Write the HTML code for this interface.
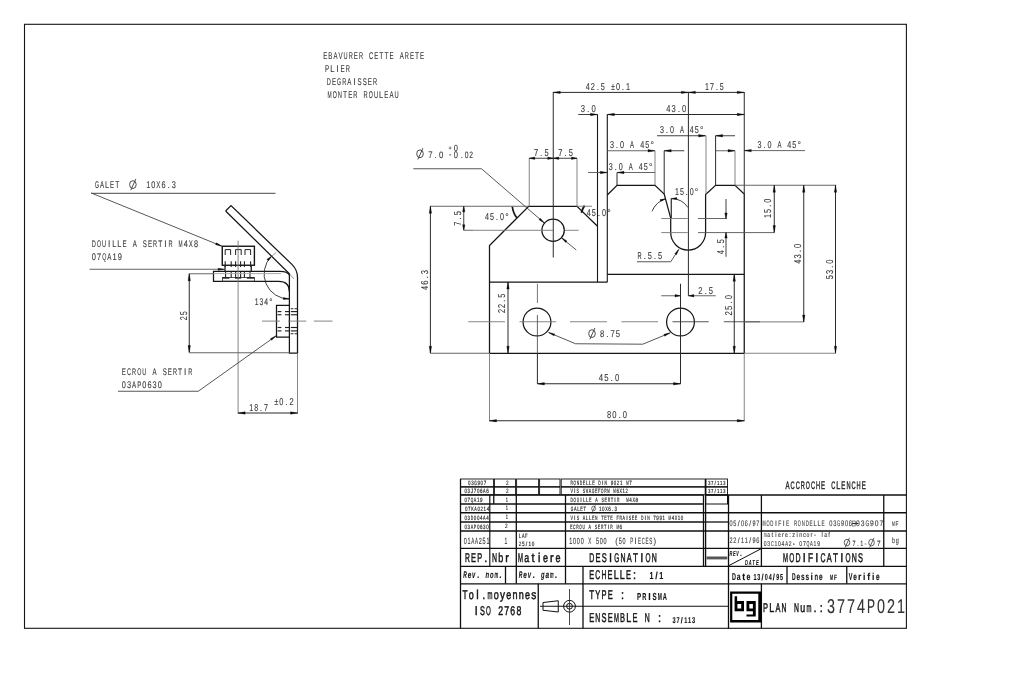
<!DOCTYPE html>
<html><head><meta charset="utf-8"><title>ACCROCHE CLENCHE 3774P021</title>
<style>
html,body{margin:0;padding:0;background:#fff;}
body{width:1024px;height:673px;overflow:hidden;font-family:"Liberation Sans",sans-serif;}
svg{display:block;font-family:"Liberation Sans",sans-serif;filter:grayscale(1);}
</style></head><body>
<svg width="1024" height="673" viewBox="0 0 1024 673" text-rendering="geometricPrecision">
<rect x="0" y="0" width="1024" height="673" fill="#ffffff"/>
<rect x="24.5" y="24.3" width="881.9" height="604" stroke="#151515" stroke-width="1.1" fill="none"/>
<g font-size="9.78" fill="#3a3a3a" stroke="#3a3a3a" stroke-width="0.12">
<text transform="translate(323.2 58.8) scale(0.63 1)">E</text>
<text transform="translate(328.3 58.8) scale(0.63 1)">B</text>
<text transform="translate(333.4 58.8) scale(0.62 1)">A</text>
<text transform="translate(338.5 58.8) scale(0.63 1)">V</text>
<text transform="translate(343.6 58.8) scale(0.58 1)">U</text>
<text transform="translate(348.71 58.8) scale(0.58 1)">R</text>
<text transform="translate(353.81 58.8) scale(0.63 1)">E</text>
<text transform="translate(358.91 58.8) scale(0.58 1)">R</text>
<text transform="translate(369.11 58.8) scale(0.58 1)">C</text>
<text transform="translate(374.21 58.8) scale(0.63 1)">E</text>
<text transform="translate(379.31 58.8) scale(0.68 1)">T</text>
<text transform="translate(384.41 58.8) scale(0.68 1)">T</text>
<text transform="translate(389.51 58.8) scale(0.63 1)">E</text>
<text transform="translate(399.72 58.8) scale(0.62 1)">A</text>
<text transform="translate(404.82 58.8) scale(0.58 1)">R</text>
<text transform="translate(409.92 58.8) scale(0.63 1)">E</text>
<text transform="translate(415.02 58.8) scale(0.68 1)">T</text>
<text transform="translate(420.12 58.8) scale(0.63 1)">E</text>
</g>
<g font-size="9.78" fill="#3a3a3a" stroke="#3a3a3a" stroke-width="0.12">
<text transform="translate(325 71.8) scale(0.64 1)">P</text>
<text transform="translate(330.21 71.8) scale(0.77 1)">L</text>
<text transform="translate(336.32 71.8) scale(0.86 1)">I</text>
<text transform="translate(340.62 71.8) scale(0.64 1)">E</text>
<text transform="translate(345.83 71.8) scale(0.59 1)">R</text>
</g>
<g font-size="9.78" fill="#3a3a3a" stroke="#3a3a3a" stroke-width="0.12">
<text transform="translate(326.8 84.8) scale(0.58 1)">D</text>
<text transform="translate(331.92 84.8) scale(0.63 1)">E</text>
<text transform="translate(337.04 84.8) scale(0.54 1)">G</text>
<text transform="translate(342.17 84.8) scale(0.58 1)">R</text>
<text transform="translate(347.29 84.8) scale(0.63 1)">A</text>
<text transform="translate(353.28 84.8) scale(0.86 1)">I</text>
<text transform="translate(357.53 84.8) scale(0.63 1)">S</text>
<text transform="translate(362.66 84.8) scale(0.63 1)">S</text>
<text transform="translate(367.78 84.8) scale(0.63 1)">E</text>
<text transform="translate(372.9 84.8) scale(0.58 1)">R</text>
</g>
<g font-size="9.78" fill="#3a3a3a" stroke="#3a3a3a" stroke-width="0.12">
<text transform="translate(327.5 97.8) scale(0.51 1)">M</text>
<text transform="translate(332.66 97.8) scale(0.54 1)">O</text>
<text transform="translate(337.82 97.8) scale(0.59 1)">N</text>
<text transform="translate(342.98 97.8) scale(0.69 1)">T</text>
<text transform="translate(348.14 97.8) scale(0.63 1)">E</text>
<text transform="translate(353.3 97.8) scale(0.59 1)">R</text>
<text transform="translate(363.62 97.8) scale(0.59 1)">R</text>
<text transform="translate(368.78 97.8) scale(0.54 1)">O</text>
<text transform="translate(373.93 97.8) scale(0.59 1)">U</text>
<text transform="translate(379.09 97.8) scale(0.76 1)">L</text>
<text transform="translate(384.25 97.8) scale(0.63 1)">E</text>
<text transform="translate(389.41 97.8) scale(0.63 1)">A</text>
<text transform="translate(394.57 97.8) scale(0.59 1)">U</text>
</g>
<path d="M489.5 353.25 L489.5 245.5 L528.75 206.25 L577 206.25 L597.5 226.25" stroke="#151515" stroke-width="1.25" fill="none" />
<line x1="489.5" y1="282" x2="607.5" y2="282" stroke="#151515" stroke-width="1.25"/>
<line x1="597.5" y1="114.5" x2="597.5" y2="282" stroke="#151515" stroke-width="1.1"/>
<line x1="607.3" y1="114.5" x2="607.3" y2="282" stroke="#151515" stroke-width="1.1"/>
<path d="M607.3 195 L617 185.25 L655 185.25 L664.2 194 L670.7 218 L670.7 232.6 A17.45 17.45 0 0 0 705.6 232.6 L705.6 194.6 L715.6 185.25 L735 185.25 L744.25 194 L744.25 353.25" stroke="#151515" stroke-width="1.25" fill="none" />
<line x1="607.3" y1="274.25" x2="744.25" y2="274.25" stroke="#151515" stroke-width="1.25"/>
<line x1="489.5" y1="353.25" x2="744.25" y2="353.25" stroke="#151515" stroke-width="1.25"/>
<circle cx="553.1" cy="230.25" r="11.2" stroke="#151515" stroke-width="1.25" fill="none"/>
<circle cx="537" cy="322" r="13.9" stroke="#151515" stroke-width="1.25" fill="none"/>
<circle cx="680.5" cy="322" r="13.9" stroke="#151515" stroke-width="1.25" fill="none"/>
<line x1="553.25" y1="92" x2="553.25" y2="257.5" stroke="#2a2a2a" stroke-width="1"/>
<line x1="473.25" y1="230.3" x2="553" y2="230.3" stroke="#777" stroke-width="0.9"/>
<line x1="565" y1="230.3" x2="578.6" y2="230.3" stroke="#777" stroke-width="0.9"/>
<line x1="688.4" y1="92" x2="688.4" y2="295.75" stroke="#2a2a2a" stroke-width="1"/>
<line x1="468.25" y1="321.75" x2="505" y2="321.75" stroke="#777" stroke-width="0.9"/>
<line x1="519.5" y1="321.75" x2="556.25" y2="321.75" stroke="#777" stroke-width="0.9"/>
<line x1="570" y1="321.75" x2="607" y2="321.75" stroke="#777" stroke-width="0.9"/>
<line x1="621.5" y1="321.75" x2="658" y2="321.75" stroke="#777" stroke-width="0.9"/>
<line x1="672.5" y1="321.75" x2="708.75" y2="321.75" stroke="#444" stroke-width="0.9"/>
<line x1="723.75" y1="321.75" x2="760" y2="321.75" stroke="#444" stroke-width="0.9"/>
<line x1="744.25" y1="321.9" x2="803.75" y2="321.9" stroke="#666" stroke-width="0.9"/>
<line x1="537.4" y1="283.75" x2="537.4" y2="303" stroke="#666" stroke-width="0.9"/>
<line x1="537.4" y1="315" x2="537.4" y2="353" stroke="#555" stroke-width="0.9"/>
<line x1="537.4" y1="353" x2="537.4" y2="383.75" stroke="#2a2a2a" stroke-width="1"/>
<line x1="680.5" y1="283.75" x2="680.5" y2="383.75" stroke="#2a2a2a" stroke-width="1"/>
<line x1="553.25" y1="92.4" x2="744.25" y2="92.4" stroke="#2a2a2a" stroke-width="1"/>
<polygon points="553.25,92.4 560.25,91.2 560.25,93.6" fill="#0a0a0a" stroke="#0a0a0a" stroke-width="0.35"/>
<polygon points="688.4,92.4 681.4,93.6 681.4,91.2" fill="#0a0a0a" stroke="#0a0a0a" stroke-width="0.35"/>
<polygon points="688.4,92.4 695.4,91.2 695.4,93.6" fill="#0a0a0a" stroke="#0a0a0a" stroke-width="0.35"/>
<polygon points="744.25,92.4 737.25,93.6 737.25,91.2" fill="#0a0a0a" stroke="#0a0a0a" stroke-width="0.35"/>
<line x1="744.25" y1="92" x2="744.25" y2="194" stroke="#2a2a2a" stroke-width="1"/>
<g font-size="9.98" fill="#3a3a3a" stroke="#3a3a3a" stroke-width="0.12">
<text transform="translate(585.8 89.6) scale(0.73 1)">4</text>
<text transform="translate(590.82 89.6) scale(0.73 1)">2</text>
<text transform="translate(596.65 89.6) scale(0.86 1)">.</text>
<text transform="translate(600.87 89.6) scale(0.73 1)">5</text>
<text transform="translate(610.91 89.6) scale(0.73 1)">±</text>
<text transform="translate(615.94 89.6) scale(0.73 1)">0</text>
<text transform="translate(621.77 89.6) scale(0.86 1)">.</text>
<text transform="translate(625.98 89.6) scale(0.73 1)">1</text>
</g>
<g font-size="9.98" fill="#3a3a3a" stroke="#3a3a3a" stroke-width="0.12">
<text transform="translate(705 89.6) scale(0.71 1)">1</text>
<text transform="translate(709.95 89.6) scale(0.71 1)">7</text>
<text transform="translate(715.67 89.6) scale(0.86 1)">.</text>
<text transform="translate(719.84 89.6) scale(0.71 1)">5</text>
</g>
<g font-size="9.98" fill="#3a3a3a" stroke="#3a3a3a" stroke-width="0.12">
<text transform="translate(580.8 112) scale(0.77 1)">3</text>
<text transform="translate(587.1 112) scale(0.86 1)">.</text>
<text transform="translate(591.51 112) scale(0.77 1)">0</text>
</g>
<line x1="578.25" y1="114.5" x2="597.5" y2="114.5" stroke="#2a2a2a" stroke-width="0.9"/>
<polygon points="597.5,114.5 590.5,115.7 590.5,113.3" fill="#0a0a0a" stroke="#0a0a0a" stroke-width="0.35"/>
<line x1="607.3" y1="114.5" x2="744.25" y2="114.5" stroke="#2a2a2a" stroke-width="1"/>
<polygon points="607.3,114.5 614.3,113.3 614.3,115.7" fill="#0a0a0a" stroke="#0a0a0a" stroke-width="0.35"/>
<polygon points="744.25,114.5 737.25,115.7 737.25,113.3" fill="#0a0a0a" stroke="#0a0a0a" stroke-width="0.35"/>
<g font-size="9.98" fill="#3a3a3a" stroke="#3a3a3a" stroke-width="0.12">
<text transform="translate(666.2 112) scale(0.76 1)">4</text>
<text transform="translate(671.46 112) scale(0.76 1)">3</text>
<text transform="translate(677.63 112) scale(0.86 1)">.</text>
<text transform="translate(681.99 112) scale(0.76 1)">0</text>
</g>
<g font-size="9.98" fill="#3a3a3a" stroke="#3a3a3a" stroke-width="0.12">
<text transform="translate(660 133.3) scale(0.72 1)">3</text>
<text transform="translate(665.77 133.3) scale(0.86 1)">.</text>
<text transform="translate(669.95 133.3) scale(0.72 1)">0</text>
<text transform="translate(679.91 133.3) scale(0.6 1)">A</text>
<text transform="translate(689.86 133.3) scale(0.72 1)">4</text>
<text transform="translate(694.84 133.3) scale(0.72 1)">5</text>
<text transform="translate(700.09 133.3) scale(0.86 1)">°</text>
</g>
<line x1="657" y1="135.75" x2="705.6" y2="135.75" stroke="#2a2a2a" stroke-width="0.9"/>
<polygon points="705.6,135.75 698.6,136.95 698.6,134.55" fill="#0a0a0a" stroke="#0a0a0a" stroke-width="0.35"/>
<line x1="706" y1="135.75" x2="706" y2="194.6" stroke="#777" stroke-width="0.9"/>
<line x1="715.6" y1="135.75" x2="735" y2="135.75" stroke="#2a2a2a" stroke-width="0.9"/>
<polygon points="715.6,135.75 722.6,134.55 722.6,136.95" fill="#0a0a0a" stroke="#0a0a0a" stroke-width="0.35"/>
<line x1="715.6" y1="135.75" x2="715.6" y2="185.25" stroke="#2a2a2a" stroke-width="1"/>
<g font-size="9.98" fill="#3a3a3a" stroke="#3a3a3a" stroke-width="0.12">
<text transform="translate(610 148.3) scale(0.73 1)">3</text>
<text transform="translate(615.83 148.3) scale(0.86 1)">.</text>
<text transform="translate(620.05 148.3) scale(0.73 1)">0</text>
<text transform="translate(630.09 148.3) scale(0.6 1)">A</text>
<text transform="translate(640.14 148.3) scale(0.73 1)">4</text>
<text transform="translate(645.16 148.3) scale(0.73 1)">5</text>
<text transform="translate(650.47 148.3) scale(0.86 1)">°</text>
</g>
<line x1="607.3" y1="150.75" x2="655" y2="150.75" stroke="#555" stroke-width="0.9"/>
<polygon points="655,150.75 648,151.95 648,149.55" fill="#0a0a0a" stroke="#0a0a0a" stroke-width="0.35"/>
<line x1="655" y1="150.75" x2="655" y2="185.25" stroke="#777" stroke-width="0.9"/>
<line x1="664.2" y1="150.75" x2="684.25" y2="150.75" stroke="#2a2a2a" stroke-width="0.9"/>
<polygon points="664.2,150.75 671.2,149.55 671.2,151.95" fill="#0a0a0a" stroke="#0a0a0a" stroke-width="0.35"/>
<line x1="664.2" y1="150.75" x2="664.2" y2="194" stroke="#2a2a2a" stroke-width="1"/>
<line x1="715.6" y1="150.75" x2="735" y2="150.75" stroke="#555" stroke-width="0.9"/>
<polygon points="735,150.75 728,151.95 728,149.55" fill="#0a0a0a" stroke="#0a0a0a" stroke-width="0.35"/>
<line x1="735" y1="150.75" x2="735" y2="185.25" stroke="#777" stroke-width="0.9"/>
<line x1="744.25" y1="150.6" x2="805" y2="150.6" stroke="#555" stroke-width="0.9"/>
<polygon points="744.25,150.6 751.25,149.4 751.25,151.8" fill="#0a0a0a" stroke="#0a0a0a" stroke-width="0.35"/>
<g font-size="9.98" fill="#3a3a3a" stroke="#3a3a3a" stroke-width="0.12">
<text transform="translate(757.5 147.6) scale(0.72 1)">3</text>
<text transform="translate(763.27 147.6) scale(0.86 1)">.</text>
<text transform="translate(767.45 147.6) scale(0.72 1)">0</text>
<text transform="translate(777.41 147.6) scale(0.6 1)">A</text>
<text transform="translate(787.36 147.6) scale(0.72 1)">4</text>
<text transform="translate(792.34 147.6) scale(0.72 1)">5</text>
<text transform="translate(797.59 147.6) scale(0.86 1)">°</text>
</g>
<g font-size="9.98" fill="#3a3a3a" stroke="#3a3a3a" stroke-width="0.12">
<text transform="translate(608.8 170.1) scale(0.72 1)">3</text>
<text transform="translate(614.57 170.1) scale(0.86 1)">.</text>
<text transform="translate(618.75 170.1) scale(0.72 1)">0</text>
<text transform="translate(628.71 170.1) scale(0.6 1)">A</text>
<text transform="translate(638.66 170.1) scale(0.72 1)">4</text>
<text transform="translate(643.64 170.1) scale(0.72 1)">5</text>
<text transform="translate(648.89 170.1) scale(0.86 1)">°</text>
</g>
<line x1="588" y1="172.5" x2="607.3" y2="172.5" stroke="#555" stroke-width="0.9"/>
<polygon points="607.3,172.5 600.3,173.7 600.3,171.3" fill="#0a0a0a" stroke="#0a0a0a" stroke-width="0.35"/>
<line x1="617" y1="172.5" x2="655" y2="172.5" stroke="#555" stroke-width="0.9"/>
<polygon points="617,172.5 624,171.3 624,173.7" fill="#0a0a0a" stroke="#0a0a0a" stroke-width="0.35"/>
<line x1="617" y1="172.5" x2="617" y2="185.25" stroke="#2a2a2a" stroke-width="1"/>
<line x1="529.25" y1="158.25" x2="529.25" y2="206.25" stroke="#777" stroke-width="0.9"/>
<line x1="577" y1="158.25" x2="577" y2="206.25" stroke="#777" stroke-width="0.9"/>
<line x1="529.25" y1="158.25" x2="577" y2="158.25" stroke="#2a2a2a" stroke-width="0.9"/>
<polygon points="529.25,158.25 534.75,157.05 534.75,159.45" fill="#0a0a0a" stroke="#0a0a0a" stroke-width="0.35"/>
<polygon points="553.25,158.25 547.75,159.45 547.75,157.05" fill="#0a0a0a" stroke="#0a0a0a" stroke-width="0.35"/>
<polygon points="553.25,158.25 558.75,157.05 558.75,159.45" fill="#0a0a0a" stroke="#0a0a0a" stroke-width="0.35"/>
<polygon points="577,158.25 571.5,159.45 571.5,157.05" fill="#0a0a0a" stroke="#0a0a0a" stroke-width="0.35"/>
<g font-size="9.98" fill="#3a3a3a" stroke="#3a3a3a" stroke-width="0.12">
<text transform="translate(534 155.8) scale(0.75 1)">7</text>
<text transform="translate(540.1 155.8) scale(0.86 1)">.</text>
<text transform="translate(544.43 155.8) scale(0.75 1)">5</text>
</g>
<g font-size="9.98" fill="#3a3a3a" stroke="#3a3a3a" stroke-width="0.12">
<text transform="translate(558.2 155.8) scale(0.75 1)">7</text>
<text transform="translate(564.3 155.8) scale(0.86 1)">.</text>
<text transform="translate(568.63 155.8) scale(0.75 1)">5</text>
</g>
<ellipse cx="420" cy="153.8" rx="3.31" ry="3.9" stroke="#3a3a3a" stroke-width="0.9" fill="none"/>
<line x1="417.86" y1="159.46" x2="422.93" y2="148.15" stroke="#3a3a3a" stroke-width="0.9"/>
<g font-size="9.36" fill="#3a3a3a" stroke="#3a3a3a" stroke-width="0.12">
<text transform="translate(428.2 157.6) scale(0.83 1)">7</text>
<text transform="translate(434.57 157.6) scale(0.86 1)">.</text>
<text transform="translate(438.91 157.6) scale(0.83 1)">0</text>
</g>
<g font-size="6.24" fill="#3a3a3a" stroke="#3a3a3a" stroke-width="0.12">
<text transform="translate(448.48 150.2) scale(0.86 1)">+</text>
</g>
<g font-size="8.32" fill="#3a3a3a" stroke="#3a3a3a" stroke-width="0.12">
<text transform="translate(449 157) scale(0.86 1)">-</text>
</g>
<g font-size="8.74" fill="#3a3a3a" stroke="#3a3a3a" stroke-width="0.12">
<text transform="translate(453.82 150.6) scale(0.86 1)">0</text>
</g>
<g font-size="9.57" fill="#3a3a3a" stroke="#3a3a3a" stroke-width="0.12">
<text transform="translate(453.8 157.7) scale(0.79 1)">0</text>
</g>
<g font-size="9.36" fill="#3a3a3a" stroke="#3a3a3a" stroke-width="0.12">
<text transform="translate(460.73 157.6) scale(0.86 1)">.</text>
<text transform="translate(464.64 157.6) scale(0.72 1)">0</text>
<text transform="translate(469.29 157.6) scale(0.72 1)">2</text>
</g>
<line x1="413.25" y1="168.75" x2="481.5" y2="168.75" stroke="#444" stroke-width="0.9"/>
<line x1="481.5" y1="168.75" x2="543.9" y2="222.6" stroke="#444" stroke-width="0.9"/>
<polygon points="544.6,223.2 539.03,219.71 540.33,218.2" fill="#0a0a0a" stroke="#0a0a0a" stroke-width="0.35"/>
<line x1="576.25" y1="250" x2="561.3" y2="237.6" stroke="#444" stroke-width="0.9"/>
<polygon points="561.3,237.6 566.95,240.97 565.67,242.51" fill="#0a0a0a" stroke="#0a0a0a" stroke-width="0.35"/>
<g font-size="9.98" fill="#3a3a3a" stroke="#3a3a3a" stroke-width="0.12">
<text transform="translate(485 219.6) scale(0.72 1)">4</text>
<text transform="translate(490 219.6) scale(0.72 1)">5</text>
<text transform="translate(495.8 219.6) scale(0.86 1)">.</text>
<text transform="translate(500 219.6) scale(0.72 1)">0</text>
<text transform="translate(505.28 219.6) scale(0.86 1)">°</text>
</g>
<path d="M512.3 206.6 Q513.2 213.4 517 218" stroke="#151515" stroke-width="1.7" fill="none" />
<g font-size="9.98" fill="#3a3a3a" stroke="#3a3a3a" stroke-width="0.12">
<text transform="translate(586.8 215.9) scale(0.73 1)">4</text>
<text transform="translate(591.84 215.9) scale(0.73 1)">5</text>
<text transform="translate(597.7 215.9) scale(0.86 1)">.</text>
<text transform="translate(601.92 215.9) scale(0.73 1)">0</text>
<text transform="translate(607.27 215.9) scale(0.86 1)">°</text>
</g>
<path d="M584.6 205.6 Q582.3 208.6 581.4 212.7" stroke="#151515" stroke-width="1.9" fill="none" />
<line x1="577" y1="206.25" x2="592" y2="206.25" stroke="#777" stroke-width="0.9"/>
<line x1="430" y1="206.25" x2="528.75" y2="206.25" stroke="#555" stroke-width="0.9"/>
<line x1="463.75" y1="206.25" x2="463.75" y2="230.25" stroke="#2a2a2a" stroke-width="0.9"/>
<polygon points="463.75,206.25 464.95,211.75 462.55,211.75" fill="#0a0a0a" stroke="#0a0a0a" stroke-width="0.35"/>
<polygon points="463.75,230.25 462.55,224.75 464.95,224.75" fill="#0a0a0a" stroke="#0a0a0a" stroke-width="0.35"/>
<line x1="463.75" y1="230.25" x2="473.25" y2="230.25" stroke="#555" stroke-width="0.9"/>
<g font-size="9.98" fill="#3a3a3a" stroke="#3a3a3a" stroke-width="0.12" transform="translate(460.6 225.8) rotate(-90)">
<text transform="translate(0 0) scale(0.75 1)">7</text>
<text transform="translate(6.1 0) scale(0.86 1)">.</text>
<text transform="translate(10.43 0) scale(0.75 1)">5</text>
</g>
<line x1="430.4" y1="206.25" x2="430.4" y2="353.25" stroke="#2a2a2a" stroke-width="1"/>
<polygon points="430.4,206.25 431.6,213.25 429.2,213.25" fill="#0a0a0a" stroke="#0a0a0a" stroke-width="0.35"/>
<polygon points="430.4,353.25 429.2,346.25 431.6,346.25" fill="#0a0a0a" stroke="#0a0a0a" stroke-width="0.35"/>
<line x1="430.4" y1="353.25" x2="489.5" y2="353.25" stroke="#555" stroke-width="0.9"/>
<g font-size="9.98" fill="#3a3a3a" stroke="#3a3a3a" stroke-width="0.12" transform="translate(427.8 290) rotate(-90)">
<text transform="translate(0 0) scale(0.76 1)">4</text>
<text transform="translate(5.26 0) scale(0.76 1)">6</text>
<text transform="translate(11.43 0) scale(0.86 1)">.</text>
<text transform="translate(15.79 0) scale(0.76 1)">3</text>
</g>
<line x1="508" y1="282" x2="508" y2="353.25" stroke="#2a2a2a" stroke-width="1"/>
<polygon points="508,282 509.2,289 506.8,289" fill="#0a0a0a" stroke="#0a0a0a" stroke-width="0.35"/>
<polygon points="508,353.25 506.8,346.25 509.2,346.25" fill="#0a0a0a" stroke="#0a0a0a" stroke-width="0.35"/>
<g font-size="9.98" fill="#3a3a3a" stroke="#3a3a3a" stroke-width="0.12" transform="translate(505.3 313) rotate(-90)">
<text transform="translate(0 0) scale(0.73 1)">2</text>
<text transform="translate(5.08 0) scale(0.73 1)">2</text>
<text transform="translate(10.99 0) scale(0.86 1)">.</text>
<text transform="translate(15.24 0) scale(0.73 1)">5</text>
</g>
<g font-size="9.98" fill="#3a3a3a" stroke="#3a3a3a" stroke-width="0.12">
<text transform="translate(675 194.6) scale(0.71 1)">1</text>
<text transform="translate(679.9 194.6) scale(0.71 1)">5</text>
<text transform="translate(685.55 194.6) scale(0.86 1)">.</text>
<text transform="translate(689.69 194.6) scale(0.71 1)">0</text>
<text transform="translate(694.82 194.6) scale(0.86 1)">°</text>
</g>
<path d="M652 211.25 Q656 202 665 199" stroke="#2a2a2a" stroke-width="0.9" fill="none" />
<polygon points="665.6,198.8 660.67,201.43 660.06,199.52" fill="#0a0a0a" stroke="#0a0a0a" stroke-width="0.35"/>
<line x1="671.25" y1="198.5" x2="671.25" y2="218" stroke="#151515" stroke-width="1.1"/>
<path d="M671.25 198.6 Q682 198.6 688 207.5" stroke="#2a2a2a" stroke-width="0.9" fill="none" />
<polygon points="671.4,198.6 676.9,197.6 676.9,199.6" fill="#0a0a0a" stroke="#0a0a0a" stroke-width="0.35"/>
<line x1="661.25" y1="218.5" x2="687.75" y2="218.5" stroke="#777" stroke-width="0.9"/>
<line x1="698" y1="218.5" x2="727" y2="218.5" stroke="#555" stroke-width="0.9"/>
<line x1="661.25" y1="232.6" x2="687.75" y2="232.6" stroke="#777" stroke-width="0.9"/>
<line x1="698" y1="232.6" x2="774.25" y2="232.6" stroke="#555" stroke-width="0.9"/>
<line x1="726" y1="199" x2="726" y2="218.5" stroke="#2a2a2a" stroke-width="0.9"/>
<polygon points="726,218.5 724.8,213 727.2,213" fill="#0a0a0a" stroke="#0a0a0a" stroke-width="0.35"/>
<line x1="726" y1="232.6" x2="726" y2="256.75" stroke="#2a2a2a" stroke-width="0.9"/>
<polygon points="726,232.6 727.2,238.1 724.8,238.1" fill="#0a0a0a" stroke="#0a0a0a" stroke-width="0.35"/>
<g font-size="9.98" fill="#3a3a3a" stroke="#3a3a3a" stroke-width="0.12" transform="translate(723.8 254.3) rotate(-90)">
<text transform="translate(0 0) scale(0.77 1)">4</text>
<text transform="translate(6.3 0) scale(0.86 1)">.</text>
<text transform="translate(10.71 0) scale(0.77 1)">5</text>
</g>
<g font-size="9.98" fill="#3a3a3a" stroke="#3a3a3a" stroke-width="0.12">
<text transform="translate(637.5 259.3) scale(0.57 1)">R</text>
<text transform="translate(643.44 259.3) scale(0.86 1)">.</text>
<text transform="translate(647.71 259.3) scale(0.74 1)">5</text>
<text transform="translate(653.65 259.3) scale(0.86 1)">.</text>
<text transform="translate(657.92 259.3) scale(0.74 1)">5</text>
</g>
<line x1="637" y1="261.75" x2="670.75" y2="261.75" stroke="#444" stroke-width="0.9"/>
<line x1="670.75" y1="261.75" x2="678.4" y2="249.8" stroke="#444" stroke-width="0.9"/>
<polygon points="678.9,249.2 676.51,254.79 674.82,253.71" fill="#0a0a0a" stroke="#0a0a0a" stroke-width="0.35"/>
<line x1="735" y1="185.25" x2="836.25" y2="185.25" stroke="#555" stroke-width="0.9"/>
<line x1="774.25" y1="185.25" x2="774.25" y2="232.6" stroke="#2a2a2a" stroke-width="1"/>
<polygon points="774.25,185.25 775.45,192.25 773.05,192.25" fill="#0a0a0a" stroke="#0a0a0a" stroke-width="0.35"/>
<polygon points="774.25,232.6 773.05,225.6 775.45,225.6" fill="#0a0a0a" stroke="#0a0a0a" stroke-width="0.35"/>
<g font-size="9.98" fill="#3a3a3a" stroke="#3a3a3a" stroke-width="0.12" transform="translate(771 218) rotate(-90)">
<text transform="translate(0 0) scale(0.73 1)">1</text>
<text transform="translate(5.08 0) scale(0.73 1)">5</text>
<text transform="translate(10.99 0) scale(0.86 1)">.</text>
<text transform="translate(15.24 0) scale(0.73 1)">0</text>
</g>
<line x1="803.75" y1="185.25" x2="803.75" y2="322" stroke="#2a2a2a" stroke-width="1"/>
<polygon points="803.75,185.25 804.95,192.25 802.55,192.25" fill="#0a0a0a" stroke="#0a0a0a" stroke-width="0.35"/>
<polygon points="803.75,322 802.55,315 804.95,315" fill="#0a0a0a" stroke="#0a0a0a" stroke-width="0.35"/>
<g font-size="9.98" fill="#3a3a3a" stroke="#3a3a3a" stroke-width="0.12" transform="translate(801 263.8) rotate(-90)">
<text transform="translate(0 0) scale(0.76 1)">4</text>
<text transform="translate(5.26 0) scale(0.76 1)">3</text>
<text transform="translate(11.43 0) scale(0.86 1)">.</text>
<text transform="translate(15.79 0) scale(0.76 1)">0</text>
</g>
<line x1="835.5" y1="185.25" x2="835.5" y2="353.25" stroke="#2a2a2a" stroke-width="1"/>
<polygon points="835.5,185.25 836.7,192.25 834.3,192.25" fill="#0a0a0a" stroke="#0a0a0a" stroke-width="0.35"/>
<polygon points="835.5,353.25 834.3,346.25 836.7,346.25" fill="#0a0a0a" stroke="#0a0a0a" stroke-width="0.35"/>
<line x1="744.25" y1="353.25" x2="835.5" y2="353.25" stroke="#777" stroke-width="0.9"/>
<g font-size="9.98" fill="#3a3a3a" stroke="#3a3a3a" stroke-width="0.12" transform="translate(832.6 279.3) rotate(-90)">
<text transform="translate(0 0) scale(0.75 1)">5</text>
<text transform="translate(5.21 0) scale(0.75 1)">3</text>
<text transform="translate(11.3 0) scale(0.86 1)">.</text>
<text transform="translate(15.63 0) scale(0.75 1)">0</text>
</g>
<line x1="734.25" y1="274.25" x2="734.25" y2="353.25" stroke="#2a2a2a" stroke-width="1"/>
<polygon points="734.25,274.25 735.45,281.25 733.05,281.25" fill="#0a0a0a" stroke="#0a0a0a" stroke-width="0.35"/>
<polygon points="734.25,353.25 733.05,346.25 735.45,346.25" fill="#0a0a0a" stroke="#0a0a0a" stroke-width="0.35"/>
<g font-size="9.98" fill="#3a3a3a" stroke="#3a3a3a" stroke-width="0.12" transform="translate(731.5 315.5) rotate(-90)">
<text transform="translate(0 0) scale(0.78 1)">2</text>
<text transform="translate(5.39 0) scale(0.78 1)">5</text>
<text transform="translate(11.75 0) scale(0.86 1)">.</text>
<text transform="translate(16.18 0) scale(0.78 1)">0</text>
</g>
<line x1="661.25" y1="295.75" x2="680.5" y2="295.75" stroke="#555" stroke-width="0.9"/>
<polygon points="680.5,295.75 675,296.95 675,294.55" fill="#0a0a0a" stroke="#0a0a0a" stroke-width="0.35"/>
<line x1="688.4" y1="295.75" x2="715.75" y2="295.75" stroke="#555" stroke-width="0.9"/>
<polygon points="688.4,295.75 693.9,294.55 693.9,296.95" fill="#0a0a0a" stroke="#0a0a0a" stroke-width="0.35"/>
<g font-size="9.98" fill="#3a3a3a" stroke="#3a3a3a" stroke-width="0.12">
<text transform="translate(698.2 293.8) scale(0.76 1)">2</text>
<text transform="translate(704.4 293.8) scale(0.86 1)">.</text>
<text transform="translate(708.77 293.8) scale(0.76 1)">5</text>
</g>
<line x1="548.9" y1="332.6" x2="575.5" y2="343.75" stroke="#444" stroke-width="0.9"/>
<line x1="575.5" y1="343.75" x2="642.8" y2="344.2" stroke="#444" stroke-width="0.9"/>
<line x1="642.8" y1="344.2" x2="669.8" y2="333" stroke="#444" stroke-width="0.9"/>
<polygon points="548.4,332.4 554.78,333.99 554.01,335.84" fill="#0a0a0a" stroke="#0a0a0a" stroke-width="0.35"/>
<polygon points="670.3,332.8 664.68,336.21 663.91,334.37" fill="#0a0a0a" stroke="#0a0a0a" stroke-width="0.35"/>
<ellipse cx="592" cy="333.6" rx="3.31" ry="3.9" stroke="#3a3a3a" stroke-width="0.9" fill="none"/>
<line x1="589.86" y1="339.25" x2="594.92" y2="327.95" stroke="#3a3a3a" stroke-width="0.9"/>
<g font-size="9.78" fill="#3a3a3a" stroke="#3a3a3a" stroke-width="0.12">
<text transform="translate(600 337.2) scale(0.78 1)">8</text>
<text transform="translate(606.19 337.2) scale(0.86 1)">.</text>
<text transform="translate(610.53 337.2) scale(0.78 1)">7</text>
<text transform="translate(615.79 337.2) scale(0.78 1)">5</text>
</g>
<line x1="537.4" y1="383.75" x2="680.5" y2="383.75" stroke="#2a2a2a" stroke-width="1"/>
<polygon points="537.4,383.75 544.4,382.55 544.4,384.95" fill="#0a0a0a" stroke="#0a0a0a" stroke-width="0.35"/>
<polygon points="680.5,383.75 673.5,384.95 673.5,382.55" fill="#0a0a0a" stroke="#0a0a0a" stroke-width="0.35"/>
<g font-size="9.98" fill="#3a3a3a" stroke="#3a3a3a" stroke-width="0.12">
<text transform="translate(598.8 381.3) scale(0.78 1)">4</text>
<text transform="translate(604.17 381.3) scale(0.78 1)">5</text>
<text transform="translate(610.48 381.3) scale(0.86 1)">.</text>
<text transform="translate(614.91 381.3) scale(0.78 1)">0</text>
</g>
<line x1="489.5" y1="353.25" x2="489.5" y2="421.25" stroke="#777" stroke-width="0.9"/>
<line x1="744.25" y1="353.25" x2="744.25" y2="421.25" stroke="#777" stroke-width="0.9"/>
<line x1="489.5" y1="420.75" x2="744.25" y2="420.75" stroke="#2a2a2a" stroke-width="1"/>
<polygon points="489.5,420.75 496.5,419.55 496.5,421.95" fill="#0a0a0a" stroke="#0a0a0a" stroke-width="0.35"/>
<polygon points="744.25,420.75 737.25,421.95 737.25,419.55" fill="#0a0a0a" stroke="#0a0a0a" stroke-width="0.35"/>
<g font-size="9.98" fill="#3a3a3a" stroke="#3a3a3a" stroke-width="0.12">
<text transform="translate(607 418.1) scale(0.76 1)">8</text>
<text transform="translate(612.26 418.1) scale(0.76 1)">0</text>
<text transform="translate(618.43 418.1) scale(0.86 1)">.</text>
<text transform="translate(622.79 418.1) scale(0.76 1)">0</text>
</g>
<g font-size="9.78" fill="#3a3a3a" stroke="#3a3a3a" stroke-width="0.12">
<text transform="translate(95 188.1) scale(0.53 1)">G</text>
<text transform="translate(100.04 188.1) scale(0.62 1)">A</text>
<text transform="translate(105.08 188.1) scale(0.74 1)">L</text>
<text transform="translate(110.12 188.1) scale(0.62 1)">E</text>
<text transform="translate(115.17 188.1) scale(0.68 1)">T</text>
</g>
<ellipse cx="132.9" cy="184.6" rx="3.31" ry="3.9" stroke="#3a3a3a" stroke-width="0.9" fill="none"/>
<line x1="130.75" y1="190.25" x2="135.83" y2="178.94" stroke="#3a3a3a" stroke-width="0.9"/>
<g font-size="9.78" fill="#3a3a3a" stroke="#3a3a3a" stroke-width="0.12">
<text transform="translate(146.2 188.1) scale(0.75 1)">1</text>
<text transform="translate(151.29 188.1) scale(0.75 1)">0</text>
<text transform="translate(156.37 188.1) scale(0.63 1)">X</text>
<text transform="translate(161.46 188.1) scale(0.75 1)">6</text>
<text transform="translate(167.4 188.1) scale(0.86 1)">.</text>
<text transform="translate(171.63 188.1) scale(0.75 1)">3</text>
</g>
<line x1="91.25" y1="193.3" x2="275.5" y2="193.3" stroke="#333" stroke-width="0.9"/>
<line x1="91.25" y1="193" x2="221.2" y2="245.9" stroke="#444" stroke-width="0.9"/>
<polygon points="222,246.2 215.6,244.67 216.36,242.82" fill="#0a0a0a" stroke="#0a0a0a" stroke-width="0.35"/>
<g font-size="9.57" fill="#3a3a3a" stroke="#3a3a3a" stroke-width="0.12">
<text transform="translate(91.8 247.1) scale(0.59 1)">D</text>
<text transform="translate(96.91 247.1) scale(0.55 1)">O</text>
<text transform="translate(102.01 247.1) scale(0.59 1)">U</text>
<text transform="translate(108.01 247.1) scale(0.86 1)">I</text>
<text transform="translate(112.22 247.1) scale(0.77 1)">L</text>
<text transform="translate(117.33 247.1) scale(0.77 1)">L</text>
<text transform="translate(122.43 247.1) scale(0.64 1)">E</text>
<text transform="translate(132.65 247.1) scale(0.64 1)">A</text>
<text transform="translate(142.86 247.1) scale(0.64 1)">S</text>
<text transform="translate(147.96 247.1) scale(0.64 1)">E</text>
<text transform="translate(153.07 247.1) scale(0.59 1)">R</text>
<text transform="translate(158.17 247.1) scale(0.7 1)">T</text>
<text transform="translate(164.17 247.1) scale(0.86 1)">I</text>
<text transform="translate(168.39 247.1) scale(0.59 1)">R</text>
<text transform="translate(178.6 247.1) scale(0.51 1)">M</text>
<text transform="translate(183.7 247.1) scale(0.77 1)">4</text>
<text transform="translate(188.81 247.1) scale(0.64 1)">X</text>
<text transform="translate(193.92 247.1) scale(0.77 1)">8</text>
</g>
<g font-size="9.57" fill="#3a3a3a" stroke="#3a3a3a" stroke-width="0.12">
<text transform="translate(91.8 260.1) scale(0.78 1)">0</text>
<text transform="translate(96.97 260.1) scale(0.78 1)">7</text>
<text transform="translate(102.14 260.1) scale(0.55 1)">Q</text>
<text transform="translate(107.32 260.1) scale(0.65 1)">A</text>
<text transform="translate(112.49 260.1) scale(0.78 1)">1</text>
<text transform="translate(117.66 260.1) scale(0.78 1)">9</text>
</g>
<line x1="89.5" y1="269.25" x2="223.75" y2="269.25" stroke="#555" stroke-width="0.9"/>
<polygon points="224.6,269.25 218.1,270.25 218.1,268.25" fill="#0a0a0a" stroke="#0a0a0a" stroke-width="0.35"/>
<path d="M225.6 211 L231 205.6 L291.9 264.4 Q297.5 270 297.5 277.5 L297.5 353 L289.4 353 L289.4 273.75 L225.6 211" stroke="#151515" stroke-width="1.25" fill="none" />
<path d="M289.4 275 Q287.5 271.25 280 271.25 L213.5 271.25 L213.5 281.25 L278.75 281.25 Q289.4 281.25 289.4 291.5" stroke="#151515" stroke-width="1.25" fill="none" />
<line x1="289.4" y1="273.75" x2="293.75" y2="278.75" stroke="#666" stroke-width="0.7"/>
<rect x="222.25" y="246.25" width="32.15" height="19" stroke="#151515" stroke-width="1.4" fill="none"/>
<line x1="225" y1="265.25" x2="225" y2="271.25" stroke="#151515" stroke-width="1.25"/>
<line x1="251.25" y1="265.25" x2="251.25" y2="271.25" stroke="#151515" stroke-width="1.25"/>
<path d="M225.2 255 L225.2 249.6 L230.6 249.6 L230.6 255" stroke="#222" stroke-width="1" fill="none" />
<path d="M235.6 255 L235.6 249.6 L241.2 249.6 L241.2 255" stroke="#222" stroke-width="1" fill="none" />
<path d="M245 255 L245 249.6 L250.6 249.6 L250.6 255" stroke="#222" stroke-width="1" fill="none" />
<line x1="225.2" y1="261.25" x2="225.2" y2="267" stroke="#222" stroke-width="1.1"/>
<line x1="231.2" y1="261.25" x2="231.2" y2="267" stroke="#222" stroke-width="1.1"/>
<line x1="235.6" y1="261.25" x2="235.6" y2="267" stroke="#222" stroke-width="1.1"/>
<line x1="240.6" y1="261.25" x2="240.6" y2="267" stroke="#222" stroke-width="1.1"/>
<line x1="244.4" y1="261.25" x2="244.4" y2="267" stroke="#222" stroke-width="1.1"/>
<line x1="250.6" y1="261.25" x2="250.6" y2="267" stroke="#222" stroke-width="1.1"/>
<rect x="222.5" y="277.6" width="31.9" height="3.65" stroke="#333" stroke-width="0.8" fill="none"/>
<line x1="225.6" y1="271.25" x2="225.6" y2="277.8" stroke="#222" stroke-width="1.1"/>
<line x1="231.2" y1="271.25" x2="231.2" y2="277.8" stroke="#222" stroke-width="1.1"/>
<line x1="235.6" y1="271.25" x2="235.6" y2="277.8" stroke="#222" stroke-width="1.1"/>
<line x1="240.6" y1="271.25" x2="240.6" y2="277.8" stroke="#222" stroke-width="1.1"/>
<line x1="244.4" y1="271.25" x2="244.4" y2="277.8" stroke="#222" stroke-width="1.1"/>
<line x1="250" y1="271.25" x2="250" y2="277.8" stroke="#222" stroke-width="1.1"/>
<line x1="222.5" y1="277.9" x2="229.4" y2="277.9" stroke="#1a1a1a" stroke-width="1.5"/>
<line x1="235" y1="277.9" x2="241.25" y2="277.9" stroke="#1a1a1a" stroke-width="1.5"/>
<line x1="246.9" y1="277.9" x2="254.4" y2="277.9" stroke="#1a1a1a" stroke-width="1.5"/>
<line x1="238.1" y1="240.6" x2="238.1" y2="413.75" stroke="#777" stroke-width="0.9"/>
<path d="M289.4 299 A25 25 0 0 1 271.25 256.5" stroke="#2a2a2a" stroke-width="0.9" fill="none" />
<line x1="271.25" y1="256.5" x2="276.25" y2="252.5" stroke="#777" stroke-width="0.7"/>
<polygon points="289.4,298.9 283.36,299.6 283.46,297.6" fill="#0a0a0a" stroke="#0a0a0a" stroke-width="0.35"/>
<polygon points="271.6,256.2 268.27,260.69 266.9,259.23" fill="#0a0a0a" stroke="#0a0a0a" stroke-width="0.35"/>
<g font-size="9.57" fill="#3a3a3a" stroke="#3a3a3a" stroke-width="0.12">
<text transform="translate(254.8 305) scale(0.71 1)">1</text>
<text transform="translate(259.54 305) scale(0.71 1)">3</text>
<text transform="translate(264.27 305) scale(0.71 1)">4</text>
<text transform="translate(269.26 305) scale(0.86 1)">°</text>
</g>
<path d="M289.4 305.25 L276.5 305.25 L276.5 337 L289.4 337" stroke="#151515" stroke-width="1.25" fill="none" />
<line x1="277.6" y1="311.6" x2="281.4" y2="311.6" stroke="#222" stroke-width="1.15"/>
<line x1="285" y1="311.6" x2="289.4" y2="311.6" stroke="#222" stroke-width="1.15"/>
<line x1="290.8" y1="311.6" x2="297" y2="311.6" stroke="#222" stroke-width="1.15"/>
<line x1="277.6" y1="314.75" x2="281.4" y2="314.75" stroke="#222" stroke-width="1.15"/>
<line x1="285" y1="314.75" x2="289.4" y2="314.75" stroke="#222" stroke-width="1.15"/>
<line x1="290.8" y1="314.75" x2="297" y2="314.75" stroke="#222" stroke-width="1.15"/>
<line x1="277.6" y1="327.5" x2="281.4" y2="327.5" stroke="#222" stroke-width="1.15"/>
<line x1="285" y1="327.5" x2="289.4" y2="327.5" stroke="#222" stroke-width="1.15"/>
<line x1="290.8" y1="327.5" x2="297" y2="327.5" stroke="#222" stroke-width="1.15"/>
<line x1="277.6" y1="330.9" x2="281.4" y2="330.9" stroke="#222" stroke-width="1.15"/>
<line x1="285" y1="330.9" x2="289.4" y2="330.9" stroke="#222" stroke-width="1.15"/>
<line x1="290.8" y1="330.9" x2="297" y2="330.9" stroke="#222" stroke-width="1.15"/>
<line x1="290.8" y1="308.75" x2="293.4" y2="308.75" stroke="#222" stroke-width="1"/>
<line x1="294.6" y1="308.75" x2="297" y2="308.75" stroke="#222" stroke-width="1"/>
<line x1="290.8" y1="333.75" x2="293.4" y2="333.75" stroke="#222" stroke-width="1"/>
<line x1="294.6" y1="333.75" x2="297" y2="333.75" stroke="#222" stroke-width="1"/>
<line x1="262" y1="321.1" x2="280" y2="321.1" stroke="#777" stroke-width="0.9"/>
<line x1="288" y1="321.1" x2="306.25" y2="321.1" stroke="#777" stroke-width="0.9"/>
<line x1="313.75" y1="321.1" x2="332.5" y2="321.1" stroke="#777" stroke-width="0.9"/>
<line x1="189.25" y1="273.75" x2="213.5" y2="273.75" stroke="#555" stroke-width="0.9"/>
<line x1="213.5" y1="273.6" x2="281" y2="273.6" stroke="#aaa" stroke-width="1"/>
<line x1="189.25" y1="273.75" x2="189.25" y2="352.5" stroke="#2a2a2a" stroke-width="1"/>
<polygon points="189.25,273.75 190.45,280.75 188.05,280.75" fill="#0a0a0a" stroke="#0a0a0a" stroke-width="0.35"/>
<polygon points="189.25,352.5 188.05,345.5 190.45,345.5" fill="#0a0a0a" stroke="#0a0a0a" stroke-width="0.35"/>
<line x1="189.25" y1="352.7" x2="289.4" y2="352.7" stroke="#666" stroke-width="1.1"/>
<g font-size="9.78" fill="#3a3a3a" stroke="#3a3a3a" stroke-width="0.12" transform="translate(186.8 320.2) rotate(-90)">
<text transform="translate(0 0) scale(0.74 1)">2</text>
<text transform="translate(5 0) scale(0.74 1)">5</text>
</g>
<g font-size="9.57" fill="#3a3a3a" stroke="#3a3a3a" stroke-width="0.12">
<text transform="translate(121.8 375.1) scale(0.64 1)">E</text>
<text transform="translate(126.92 375.1) scale(0.59 1)">C</text>
<text transform="translate(132.03 375.1) scale(0.59 1)">R</text>
<text transform="translate(137.15 375.1) scale(0.55 1)">O</text>
<text transform="translate(142.26 375.1) scale(0.59 1)">U</text>
<text transform="translate(152.5 375.1) scale(0.64 1)">A</text>
<text transform="translate(162.73 375.1) scale(0.64 1)">S</text>
<text transform="translate(167.84 375.1) scale(0.64 1)">E</text>
<text transform="translate(172.96 375.1) scale(0.59 1)">R</text>
<text transform="translate(178.08 375.1) scale(0.7 1)">T</text>
<text transform="translate(184.09 375.1) scale(0.86 1)">I</text>
<text transform="translate(188.31 375.1) scale(0.59 1)">R</text>
</g>
<g font-size="9.57" fill="#3a3a3a" stroke="#3a3a3a" stroke-width="0.12">
<text transform="translate(121.8 388.1) scale(0.77 1)">0</text>
<text transform="translate(126.93 388.1) scale(0.77 1)">3</text>
<text transform="translate(132.06 388.1) scale(0.64 1)">A</text>
<text transform="translate(137.18 388.1) scale(0.64 1)">P</text>
<text transform="translate(142.31 388.1) scale(0.77 1)">0</text>
<text transform="translate(147.44 388.1) scale(0.77 1)">6</text>
<text transform="translate(152.57 388.1) scale(0.77 1)">3</text>
<text transform="translate(157.7 388.1) scale(0.77 1)">0</text>
</g>
<line x1="118" y1="391.25" x2="198.25" y2="391.25" stroke="#444" stroke-width="0.9"/>
<line x1="198.25" y1="391.25" x2="275.6" y2="336.2" stroke="#444" stroke-width="0.9"/>
<polygon points="276.3,335.7 271.58,340.28 270.42,338.65" fill="#0a0a0a" stroke="#0a0a0a" stroke-width="0.35"/>
<line x1="297.5" y1="353" x2="297.5" y2="413.75" stroke="#777" stroke-width="0.9"/>
<line x1="238.1" y1="413" x2="297.5" y2="413" stroke="#2a2a2a" stroke-width="1"/>
<polygon points="238.1,413 245.1,411.8 245.1,414.2" fill="#0a0a0a" stroke="#0a0a0a" stroke-width="0.35"/>
<polygon points="297.5,413 290.5,414.2 290.5,411.8" fill="#0a0a0a" stroke="#0a0a0a" stroke-width="0.35"/>
<g font-size="9.98" fill="#3a3a3a" stroke="#3a3a3a" stroke-width="0.12">
<text transform="translate(249.2 411.3) scale(0.71 1)">1</text>
<text transform="translate(254.15 411.3) scale(0.71 1)">8</text>
<text transform="translate(259.87 411.3) scale(0.86 1)">.</text>
<text transform="translate(264.04 411.3) scale(0.71 1)">7</text>
</g>
<g font-size="9.98" fill="#3a3a3a" stroke="#3a3a3a" stroke-width="0.12">
<text transform="translate(274.2 405) scale(0.75 1)">±</text>
<text transform="translate(279.33 405) scale(0.74 1)">0</text>
<text transform="translate(285.31 405) scale(0.86 1)">.</text>
<text transform="translate(289.59 405) scale(0.74 1)">2</text>
</g>
<rect x="460.5" y="479" width="33.1" height="7.6" stroke="#101010" stroke-width="0.9" fill="none"/>
<rect x="494.4" y="479" width="21.2" height="7.6" stroke="#101010" stroke-width="0.9" fill="none"/>
<rect x="516.6" y="479" width="22" height="7.6" stroke="#101010" stroke-width="0.9" fill="none"/>
<rect x="539.6" y="479" width="20.4" height="7.6" stroke="#101010" stroke-width="0.9" fill="none"/>
<rect x="561.2" y="479" width="144" height="7.6" stroke="#101010" stroke-width="0.9" fill="none"/>
<rect x="705.8" y="479" width="21.7" height="7.6" stroke="#101010" stroke-width="0.9" fill="none"/>
<rect x="460.5" y="487.2" width="33.1" height="7.6" stroke="#101010" stroke-width="0.9" fill="none"/>
<rect x="494.4" y="487.2" width="21.2" height="7.6" stroke="#101010" stroke-width="0.9" fill="none"/>
<rect x="516.6" y="487.2" width="22" height="7.6" stroke="#101010" stroke-width="0.9" fill="none"/>
<rect x="539.6" y="487.2" width="20.4" height="7.6" stroke="#101010" stroke-width="0.9" fill="none"/>
<rect x="561.2" y="487.2" width="144" height="7.6" stroke="#101010" stroke-width="0.9" fill="none"/>
<rect x="705.8" y="487.2" width="21.7" height="7.6" stroke="#101010" stroke-width="0.9" fill="none"/>
<line x1="460.5" y1="495" x2="703.5" y2="495" stroke="#101010" stroke-width="1.3"/>
<line x1="460.5" y1="504" x2="703.5" y2="504" stroke="#101010" stroke-width="1.3"/>
<line x1="460.5" y1="512.75" x2="703.5" y2="512.75" stroke="#101010" stroke-width="1.3"/>
<line x1="460.5" y1="522" x2="703.5" y2="522" stroke="#101010" stroke-width="1.3"/>
<line x1="460.5" y1="531" x2="703.5" y2="531" stroke="#101010" stroke-width="1.3"/>
<line x1="460.5" y1="548.3" x2="703.5" y2="548.3" stroke="#101010" stroke-width="1.3"/>
<line x1="460.5" y1="479" x2="460.5" y2="628.3" stroke="#101010" stroke-width="1.3"/>
<line x1="489.8" y1="495" x2="489.8" y2="566.25" stroke="#101010" stroke-width="1.15"/>
<line x1="493.75" y1="495" x2="493.75" y2="504" stroke="#101010" stroke-width="1.3"/>
<line x1="516.3" y1="495" x2="516.3" y2="583.75" stroke="#101010" stroke-width="1.3"/>
<line x1="565.5" y1="495" x2="565.5" y2="583.75" stroke="#101010" stroke-width="1.3"/>
<line x1="703.5" y1="495" x2="703.5" y2="566.25" stroke="#101010" stroke-width="1.3"/>
<line x1="705.6" y1="479" x2="705.6" y2="566.25" stroke="#101010" stroke-width="1.3"/>
<rect x="705.6" y="495" width="21.9" height="9" stroke="#101010" stroke-width="1" fill="none"/>
<line x1="703.5" y1="522" x2="728.5" y2="522" stroke="#101010" stroke-width="1.3"/>
<line x1="460.5" y1="566.35" x2="906.4" y2="566.35" stroke="#101010" stroke-width="1.3"/>
<line x1="460.5" y1="583.9" x2="906.4" y2="583.9" stroke="#101010" stroke-width="1.3"/>
<line x1="705.6" y1="495" x2="906.4" y2="495" stroke="#101010" stroke-width="1.3"/>
<line x1="703.5" y1="512.75" x2="906.4" y2="512.75" stroke="#101010" stroke-width="1.3"/>
<line x1="703.5" y1="531" x2="906.4" y2="531" stroke="#101010" stroke-width="1.3"/>
<line x1="703.5" y1="548.3" x2="906.4" y2="548.3" stroke="#101010" stroke-width="1.3"/>
<line x1="728.5" y1="495" x2="728.5" y2="628.3" stroke="#101010" stroke-width="1.3"/>
<line x1="761.4" y1="495" x2="761.4" y2="566.25" stroke="#101010" stroke-width="1.3"/>
<line x1="761.4" y1="583.75" x2="761.4" y2="628.3" stroke="#101010" stroke-width="1.3"/>
<line x1="883.75" y1="495" x2="883.75" y2="566.25" stroke="#101010" stroke-width="1.3"/>
<line x1="787" y1="566.25" x2="787" y2="583.75" stroke="#101010" stroke-width="1.3"/>
<line x1="846.75" y1="566.25" x2="846.75" y2="583.75" stroke="#101010" stroke-width="1.3"/>
<line x1="728.5" y1="565.8" x2="761.4" y2="548.6" stroke="#101010" stroke-width="1"/>
<line x1="505.5" y1="566.25" x2="505.5" y2="583.75" stroke="#101010" stroke-width="1.3"/>
<line x1="583" y1="566.25" x2="583" y2="628.3" stroke="#101010" stroke-width="1.3"/>
<line x1="538.25" y1="583.75" x2="538.25" y2="628.3" stroke="#101010" stroke-width="1.3"/>
<line x1="540" y1="606.25" x2="728.5" y2="606.25" stroke="#101010" stroke-width="1"/>
<g font-size="6.24" fill="#262626" stroke="#262626" stroke-width="0.18">
<text transform="translate(468 485.1) scale(0.72 1)">0</text>
<text transform="translate(471.14 485.1) scale(0.72 1)">3</text>
<text transform="translate(474.28 485.1) scale(0.52 1)">G</text>
<text transform="translate(477.41 485.1) scale(0.72 1)">9</text>
<text transform="translate(480.55 485.1) scale(0.72 1)">0</text>
<text transform="translate(483.69 485.1) scale(0.72 1)">7</text>
</g>
<g font-size="6.24" fill="#262626" stroke="#262626" stroke-width="0.18">
<text transform="translate(506 485.1) scale(0.75 1)">2</text>
</g>
<g font-size="6.24" fill="#262626" stroke="#262626" stroke-width="0.18">
<text transform="translate(570.5 485.1) scale(0.55 1)">R</text>
<text transform="translate(573.59 485.1) scale(0.51 1)">O</text>
<text transform="translate(576.68 485.1) scale(0.55 1)">N</text>
<text transform="translate(579.77 485.1) scale(0.55 1)">D</text>
<text transform="translate(582.86 485.1) scale(0.6 1)">E</text>
<text transform="translate(585.95 485.1) scale(0.71 1)">L</text>
<text transform="translate(589.05 485.1) scale(0.71 1)">L</text>
<text transform="translate(592.14 485.1) scale(0.6 1)">E</text>
<text transform="translate(598.32 485.1) scale(0.55 1)">D</text>
<text transform="translate(601.89 485.1) scale(0.86 1)">I</text>
<text transform="translate(604.5 485.1) scale(0.55 1)">N</text>
<text transform="translate(610.68 485.1) scale(0.71 1)">9</text>
<text transform="translate(613.77 485.1) scale(0.71 1)">0</text>
<text transform="translate(616.86 485.1) scale(0.71 1)">2</text>
<text transform="translate(619.95 485.1) scale(0.71 1)">1</text>
<text transform="translate(626.14 485.1) scale(0.47 1)">M</text>
<text transform="translate(629.23 485.1) scale(0.71 1)">7</text>
</g>
<g font-size="6.24" fill="#262626" stroke="#262626" stroke-width="0.18">
<text transform="translate(464.5 493.3) scale(0.72 1)">0</text>
<text transform="translate(467.6 493.3) scale(0.72 1)">3</text>
<text transform="translate(470.71 493.3) scale(0.8 1)">J</text>
<text transform="translate(473.81 493.3) scale(0.72 1)">7</text>
<text transform="translate(476.91 493.3) scale(0.72 1)">0</text>
<text transform="translate(480.01 493.3) scale(0.72 1)">6</text>
<text transform="translate(483.12 493.3) scale(0.59 1)">A</text>
<text transform="translate(486.22 493.3) scale(0.72 1)">6</text>
</g>
<g font-size="6.24" fill="#262626" stroke="#262626" stroke-width="0.18">
<text transform="translate(506 493.3) scale(0.75 1)">2</text>
</g>
<g font-size="6.24" fill="#262626" stroke="#262626" stroke-width="0.18">
<text transform="translate(570.5 493.3) scale(0.59 1)">V</text>
<text transform="translate(574.03 493.3) scale(0.86 1)">I</text>
<text transform="translate(576.62 493.3) scale(0.59 1)">S</text>
<text transform="translate(582.73 493.3) scale(0.59 1)">S</text>
<text transform="translate(585.79 493.3) scale(0.41 1)">W</text>
<text transform="translate(588.85 493.3) scale(0.59 1)">A</text>
<text transform="translate(591.91 493.3) scale(0.5 1)">G</text>
<text transform="translate(594.97 493.3) scale(0.59 1)">E</text>
<text transform="translate(598.03 493.3) scale(0.64 1)">F</text>
<text transform="translate(601.09 493.3) scale(0.5 1)">O</text>
<text transform="translate(604.14 493.3) scale(0.54 1)">R</text>
<text transform="translate(607.2 493.3) scale(0.47 1)">M</text>
<text transform="translate(613.32 493.3) scale(0.47 1)">M</text>
<text transform="translate(616.38 493.3) scale(0.71 1)">6</text>
<text transform="translate(619.44 493.3) scale(0.59 1)">X</text>
<text transform="translate(622.49 493.3) scale(0.71 1)">1</text>
<text transform="translate(625.55 493.3) scale(0.71 1)">2</text>
</g>
<g font-size="6.24" fill="#262626" stroke="#262626" stroke-width="0.18">
<text transform="translate(464.5 501.8) scale(0.72 1)">0</text>
<text transform="translate(467.6 501.8) scale(0.72 1)">7</text>
<text transform="translate(470.71 501.8) scale(0.51 1)">Q</text>
<text transform="translate(473.81 501.8) scale(0.59 1)">A</text>
<text transform="translate(476.91 501.8) scale(0.72 1)">1</text>
<text transform="translate(480.02 501.8) scale(0.72 1)">9</text>
</g>
<g font-size="6.24" fill="#262626" stroke="#262626" stroke-width="0.18">
<text transform="translate(505.8 501.8) scale(0.64 1)">1</text>
</g>
<g font-size="6.24" fill="#262626" stroke="#262626" stroke-width="0.18">
<text transform="translate(570.5 501.8) scale(0.55 1)">D</text>
<text transform="translate(573.6 501.8) scale(0.51 1)">O</text>
<text transform="translate(576.69 501.8) scale(0.55 1)">U</text>
<text transform="translate(580.28 501.8) scale(0.86 1)">I</text>
<text transform="translate(582.89 501.8) scale(0.72 1)">L</text>
<text transform="translate(585.98 501.8) scale(0.72 1)">L</text>
<text transform="translate(589.08 501.8) scale(0.6 1)">E</text>
<text transform="translate(595.27 501.8) scale(0.59 1)">A</text>
<text transform="translate(601.46 501.8) scale(0.6 1)">S</text>
<text transform="translate(604.56 501.8) scale(0.6 1)">E</text>
<text transform="translate(607.66 501.8) scale(0.55 1)">R</text>
<text transform="translate(610.75 501.8) scale(0.65 1)">T</text>
<text transform="translate(614.34 501.8) scale(0.86 1)">I</text>
<text transform="translate(616.94 501.8) scale(0.55 1)">R</text>
<text transform="translate(626.23 501.8) scale(0.48 1)">M</text>
<text transform="translate(629.33 501.8) scale(0.72 1)">4</text>
<text transform="translate(632.43 501.8) scale(0.6 1)">X</text>
<text transform="translate(635.52 501.8) scale(0.72 1)">8</text>
</g>
<g font-size="6.24" fill="#262626" stroke="#262626" stroke-width="0.18">
<text transform="translate(465 510.7) scale(0.72 1)">0</text>
<text transform="translate(468.1 510.7) scale(0.72 1)">7</text>
<text transform="translate(471.21 510.7) scale(0.6 1)">K</text>
<text transform="translate(474.31 510.7) scale(0.59 1)">A</text>
<text transform="translate(477.41 510.7) scale(0.72 1)">0</text>
<text transform="translate(480.51 510.7) scale(0.72 1)">2</text>
<text transform="translate(483.62 510.7) scale(0.72 1)">1</text>
<text transform="translate(486.72 510.7) scale(0.72 1)">4</text>
</g>
<g font-size="6.24" fill="#262626" stroke="#262626" stroke-width="0.18">
<text transform="translate(505.8 509.5) scale(0.64 1)">1</text>
</g>
<g font-size="6.24" fill="#262626" stroke="#262626" stroke-width="0.18">
<text transform="translate(570.8 510.7) scale(0.52 1)">G</text>
<text transform="translate(573.97 510.7) scale(0.61 1)">A</text>
<text transform="translate(577.13 510.7) scale(0.73 1)">L</text>
<text transform="translate(580.3 510.7) scale(0.61 1)">E</text>
<text transform="translate(583.47 510.7) scale(0.67 1)">T</text>
</g>
<ellipse cx="593.6" cy="508.5" rx="1.95" ry="2.3" stroke="#3a3a3a" stroke-width="0.7" fill="none"/>
<line x1="592.34" y1="511.83" x2="595.33" y2="505.17" stroke="#3a3a3a" stroke-width="0.7"/>
<g font-size="6.24" fill="#262626" stroke="#262626" stroke-width="0.18">
<text transform="translate(599 510.7) scale(0.72 1)">1</text>
<text transform="translate(602.1 510.7) scale(0.72 1)">0</text>
<text transform="translate(605.21 510.7) scale(0.6 1)">X</text>
<text transform="translate(608.31 510.7) scale(0.72 1)">6</text>
<text transform="translate(611.9 510.7) scale(0.86 1)">.</text>
<text transform="translate(614.52 510.7) scale(0.72 1)">3</text>
</g>
<g font-size="6.24" fill="#262626" stroke="#262626" stroke-width="0.18">
<text transform="translate(464.5 520) scale(0.72 1)">0</text>
<text transform="translate(467.6 520) scale(0.72 1)">3</text>
<text transform="translate(470.71 520) scale(0.55 1)">D</text>
<text transform="translate(473.81 520) scale(0.72 1)">0</text>
<text transform="translate(476.91 520) scale(0.72 1)">0</text>
<text transform="translate(480.01 520) scale(0.72 1)">4</text>
<text transform="translate(483.12 520) scale(0.59 1)">A</text>
<text transform="translate(486.22 520) scale(0.72 1)">4</text>
</g>
<g font-size="6.24" fill="#262626" stroke="#262626" stroke-width="0.18">
<text transform="translate(505.8 518.5) scale(0.64 1)">1</text>
</g>
<g font-size="6.24" fill="#262626" stroke="#262626" stroke-width="0.18">
<text transform="translate(570.5 520) scale(0.59 1)">V</text>
<text transform="translate(574.04 520) scale(0.86 1)">I</text>
<text transform="translate(576.63 520) scale(0.59 1)">S</text>
<text transform="translate(582.76 520) scale(0.59 1)">A</text>
<text transform="translate(585.83 520) scale(0.71 1)">L</text>
<text transform="translate(588.89 520) scale(0.71 1)">L</text>
<text transform="translate(591.96 520) scale(0.59 1)">E</text>
<text transform="translate(595.02 520) scale(0.55 1)">N</text>
<text transform="translate(601.15 520) scale(0.64 1)">T</text>
<text transform="translate(604.22 520) scale(0.59 1)">E</text>
<text transform="translate(607.28 520) scale(0.64 1)">T</text>
<text transform="translate(610.35 520) scale(0.59 1)">E</text>
<text transform="translate(616.48 520) scale(0.64 1)">F</text>
<text transform="translate(619.54 520) scale(0.55 1)">R</text>
<text transform="translate(622.61 520) scale(0.59 1)">A</text>
<text transform="translate(626.15 520) scale(0.86 1)">I</text>
<text transform="translate(628.74 520) scale(0.59 1)">S</text>
<text transform="translate(631.8 520) scale(0.59 1)">E</text>
<text transform="translate(634.87 520) scale(0.59 1)">E</text>
<text transform="translate(641 520) scale(0.55 1)">D</text>
<text transform="translate(644.54 520) scale(0.86 1)">I</text>
<text transform="translate(647.13 520) scale(0.55 1)">N</text>
<text transform="translate(653.26 520) scale(0.71 1)">7</text>
<text transform="translate(656.33 520) scale(0.71 1)">9</text>
<text transform="translate(659.39 520) scale(0.71 1)">9</text>
<text transform="translate(662.46 520) scale(0.71 1)">1</text>
<text transform="translate(668.59 520) scale(0.47 1)">M</text>
<text transform="translate(671.65 520) scale(0.71 1)">4</text>
<text transform="translate(674.72 520) scale(0.59 1)">X</text>
<text transform="translate(677.78 520) scale(0.71 1)">1</text>
<text transform="translate(680.85 520) scale(0.71 1)">0</text>
</g>
<g font-size="6.24" fill="#262626" stroke="#262626" stroke-width="0.18">
<text transform="translate(464.5 528.8) scale(0.72 1)">0</text>
<text transform="translate(467.6 528.8) scale(0.72 1)">3</text>
<text transform="translate(470.71 528.8) scale(0.59 1)">A</text>
<text transform="translate(473.81 528.8) scale(0.6 1)">P</text>
<text transform="translate(476.91 528.8) scale(0.72 1)">0</text>
<text transform="translate(480.01 528.8) scale(0.72 1)">6</text>
<text transform="translate(483.12 528.8) scale(0.72 1)">3</text>
<text transform="translate(486.22 528.8) scale(0.72 1)">0</text>
</g>
<g font-size="6.24" fill="#262626" stroke="#262626" stroke-width="0.18">
<text transform="translate(505 527.6) scale(0.75 1)">2</text>
</g>
<g font-size="6.24" fill="#262626" stroke="#262626" stroke-width="0.18">
<text transform="translate(570 528.8) scale(0.6 1)">E</text>
<text transform="translate(573.1 528.8) scale(0.55 1)">C</text>
<text transform="translate(576.19 528.8) scale(0.55 1)">R</text>
<text transform="translate(579.29 528.8) scale(0.51 1)">O</text>
<text transform="translate(582.38 528.8) scale(0.55 1)">U</text>
<text transform="translate(588.57 528.8) scale(0.59 1)">A</text>
<text transform="translate(594.76 528.8) scale(0.6 1)">S</text>
<text transform="translate(597.86 528.8) scale(0.6 1)">E</text>
<text transform="translate(600.95 528.8) scale(0.55 1)">R</text>
<text transform="translate(604.05 528.8) scale(0.65 1)">T</text>
<text transform="translate(607.63 528.8) scale(0.86 1)">I</text>
<text transform="translate(610.24 528.8) scale(0.55 1)">R</text>
<text transform="translate(616.43 528.8) scale(0.48 1)">M</text>
<text transform="translate(619.52 528.8) scale(0.72 1)">6</text>
</g>
<g font-size="5.82" fill="#262626" stroke="#262626" stroke-width="0.18">
<text transform="translate(708 485.1) scale(0.75 1)">3</text>
<text transform="translate(711.02 485.1) scale(0.75 1)">7</text>
<text transform="translate(714.54 485.1) scale(0.86 1)">/</text>
<text transform="translate(717.05 485.1) scale(0.75 1)">1</text>
<text transform="translate(720.07 485.1) scale(0.75 1)">1</text>
<text transform="translate(723.09 485.1) scale(0.75 1)">3</text>
</g>
<g font-size="5.82" fill="#262626" stroke="#262626" stroke-width="0.18">
<text transform="translate(708 493.3) scale(0.75 1)">3</text>
<text transform="translate(711.02 493.3) scale(0.75 1)">7</text>
<text transform="translate(714.54 493.3) scale(0.86 1)">/</text>
<text transform="translate(717.05 493.3) scale(0.75 1)">1</text>
<text transform="translate(720.07 493.3) scale(0.75 1)">1</text>
<text transform="translate(723.09 493.3) scale(0.75 1)">3</text>
</g>
<g font-size="8.94" fill="#3a3a3a" stroke="#3a3a3a" stroke-width="0.12">
<text transform="translate(463.8 543.8) scale(0.61 1)">0</text>
<text transform="translate(467.56 543.8) scale(0.61 1)">1</text>
<text transform="translate(471.33 543.8) scale(0.5 1)">A</text>
<text transform="translate(475.09 543.8) scale(0.5 1)">A</text>
<text transform="translate(478.86 543.8) scale(0.61 1)">2</text>
<text transform="translate(482.62 543.8) scale(0.61 1)">5</text>
<text transform="translate(486.39 543.8) scale(0.61 1)">1</text>
</g>
<g font-size="8.94" fill="#3a3a3a" stroke="#3a3a3a" stroke-width="0.12">
<text transform="translate(504.5 543.8) scale(0.56 1)">1</text>
</g>
<g font-size="6.24" fill="#262626" stroke="#262626" stroke-width="0.18">
<text transform="translate(518.8 538.3) scale(0.73 1)">L</text>
<text transform="translate(521.94 538.3) scale(0.6 1)">A</text>
<text transform="translate(525.09 538.3) scale(0.66 1)">F</text>
</g>
<g font-size="6.24" fill="#262626" stroke="#262626" stroke-width="0.18">
<text transform="translate(518.8 546) scale(0.75 1)">2</text>
<text transform="translate(522.03 546) scale(0.75 1)">5</text>
<text transform="translate(525.8 546) scale(0.86 1)">/</text>
<text transform="translate(528.49 546) scale(0.75 1)">1</text>
<text transform="translate(531.72 546) scale(0.75 1)">0</text>
</g>
<g font-size="8.94" fill="#3a3a3a" stroke="#3a3a3a" stroke-width="0.12">
<text transform="translate(569.2 543.8) scale(0.61 1)">1</text>
<text transform="translate(573.02 543.8) scale(0.61 1)">0</text>
<text transform="translate(576.83 543.8) scale(0.61 1)">0</text>
<text transform="translate(580.65 543.8) scale(0.61 1)">0</text>
<text transform="translate(588.28 543.8) scale(0.51 1)">X</text>
<text transform="translate(595.91 543.8) scale(0.61 1)">5</text>
<text transform="translate(599.73 543.8) scale(0.61 1)">0</text>
<text transform="translate(603.54 543.8) scale(0.61 1)">0</text>
<text transform="translate(615.23 543.8) scale(0.86 1)">(</text>
<text transform="translate(618.81 543.8) scale(0.61 1)">5</text>
<text transform="translate(622.62 543.8) scale(0.61 1)">0</text>
<text transform="translate(630.25 543.8) scale(0.51 1)">P</text>
<text transform="translate(634.52 543.8) scale(0.86 1)">I</text>
<text transform="translate(637.88 543.8) scale(0.51 1)">E</text>
<text transform="translate(641.7 543.8) scale(0.47 1)">C</text>
<text transform="translate(645.52 543.8) scale(0.51 1)">E</text>
<text transform="translate(649.33 543.8) scale(0.51 1)">S</text>
<text transform="translate(653.39 543.8) scale(0.86 1)">)</text>
</g>
<g font-size="12.69" fill="#161616" stroke="#161616" stroke-width="0.5">
<text transform="translate(465 562) scale(0.53 1)">R</text>
<text transform="translate(471.11 562) scale(0.58 1)">E</text>
<text transform="translate(477.21 562) scale(0.58 1)">P</text>
<text transform="translate(484.23 562) scale(0.86 1)">.</text>
</g>
<g font-size="12.69" fill="#161616" stroke="#161616" stroke-width="0.5">
<text transform="translate(492 562) scale(0.55 1)">N</text>
<text transform="translate(498.25 562) scale(0.71 1)">b</text>
<text transform="translate(505.17 562) scale(0.86 1)">r</text>
</g>
<g font-size="12.69" fill="#161616" stroke="#161616" stroke-width="0.5">
<text transform="translate(518 562) scale(0.47 1)">M</text>
<text transform="translate(524.25 562) scale(0.7 1)">a</text>
<text transform="translate(531.47 562) scale(0.86 1)">t</text>
<text transform="translate(538.05 562) scale(0.86 1)">i</text>
<text transform="translate(543 562) scale(0.71 1)">e</text>
<text transform="translate(549.92 562) scale(0.86 1)">r</text>
<text transform="translate(555.5 562) scale(0.71 1)">e</text>
</g>
<g font-size="12.69" fill="#161616" stroke="#161616" stroke-width="0.5">
<text transform="translate(589.2 562) scale(0.55 1)">D</text>
<text transform="translate(595.45 562) scale(0.59 1)">E</text>
<text transform="translate(601.7 562) scale(0.59 1)">S</text>
<text transform="translate(608.92 562) scale(0.86 1)">I</text>
<text transform="translate(614.2 562) scale(0.51 1)">G</text>
<text transform="translate(620.45 562) scale(0.55 1)">N</text>
<text transform="translate(626.7 562) scale(0.59 1)">A</text>
<text transform="translate(632.95 562) scale(0.65 1)">T</text>
<text transform="translate(640.17 562) scale(0.86 1)">I</text>
<text transform="translate(645.45 562) scale(0.51 1)">O</text>
<text transform="translate(651.7 562) scale(0.55 1)">N</text>
</g>
<rect x="706.5" y="556.5" width="20.8" height="2.9" stroke="#555" stroke-width="0" fill="#555"/>
<g font-size="9.78" fill="#111" font-weight="bold" font-style="italic" stroke="#111" stroke-width="0.12">
<text transform="translate(463.2 578.3) scale(0.51 1)">R</text>
<text transform="translate(467.65 578.3) scale(0.66 1)">e</text>
<text transform="translate(472.11 578.3) scale(0.6 1)">v</text>
<text transform="translate(477.17 578.3) scale(0.86 1)">.</text>
<text transform="translate(485.47 578.3) scale(0.6 1)">n</text>
<text transform="translate(489.93 578.3) scale(0.6 1)">o</text>
<text transform="translate(494.38 578.3) scale(0.41 1)">m</text>
<text transform="translate(499.44 578.3) scale(0.86 1)">.</text>
</g>
<g font-size="9.78" fill="#111" font-weight="bold" font-style="italic" stroke="#111" stroke-width="0.12">
<text transform="translate(518.8 578.3) scale(0.51 1)">R</text>
<text transform="translate(523.25 578.3) scale(0.66 1)">e</text>
<text transform="translate(527.71 578.3) scale(0.6 1)">v</text>
<text transform="translate(532.77 578.3) scale(0.86 1)">.</text>
<text transform="translate(541.1 578.3) scale(0.59 1)">g</text>
<text transform="translate(545.53 578.3) scale(0.66 1)">a</text>
<text transform="translate(549.98 578.3) scale(0.41 1)">m</text>
<text transform="translate(555.04 578.3) scale(0.86 1)">.</text>
</g>
<g font-size="12.69" fill="#161616" stroke="#161616" stroke-width="0.5">
<text transform="translate(589.2 579) scale(0.58 1)">E</text>
<text transform="translate(595.33 579) scale(0.54 1)">C</text>
<text transform="translate(601.46 579) scale(0.54 1)">H</text>
<text transform="translate(607.58 579) scale(0.58 1)">E</text>
<text transform="translate(613.71 579) scale(0.7 1)">L</text>
<text transform="translate(619.84 579) scale(0.7 1)">L</text>
<text transform="translate(625.97 579) scale(0.58 1)">E</text>
<text transform="translate(633.02 579) scale(0.86 1)">:</text>
</g>
<g font-size="10.19" fill="#111" font-weight="bold" stroke="#111" stroke-width="0.12">
<text transform="translate(649.5 579.2) scale(0.7 1)">1</text>
<text transform="translate(655.17 579.2) scale(0.86 1)">/</text>
<text transform="translate(659.36 579.2) scale(0.7 1)">1</text>
</g>
<g font-size="12.69" fill="#161616" stroke="#161616" stroke-width="0.5">
<text transform="translate(462.5 599) scale(0.65 1)">T</text>
<text transform="translate(468.75 599) scale(0.71 1)">o</text>
<text transform="translate(476.31 599) scale(0.86 1)">l</text>
<text transform="translate(482.24 599) scale(0.86 1)">.</text>
<text transform="translate(487.52 599) scale(0.47 1)">m</text>
<text transform="translate(493.77 599) scale(0.71 1)">o</text>
<text transform="translate(500.03 599) scale(0.79 1)">y</text>
<text transform="translate(506.28 599) scale(0.71 1)">e</text>
<text transform="translate(512.53 599) scale(0.71 1)">n</text>
<text transform="translate(518.79 599) scale(0.71 1)">n</text>
<text transform="translate(525.04 599) scale(0.71 1)">e</text>
<text transform="translate(531.3 599) scale(0.79 1)">s</text>
</g>
<g font-size="12.69" fill="#161616" stroke="#161616" stroke-width="0.5">
<text transform="translate(474.71 615.3) scale(0.86 1)">I</text>
<text transform="translate(479.89 615.3) scale(0.58 1)">S</text>
<text transform="translate(485.98 615.3) scale(0.49 1)">O</text>
<text transform="translate(498.16 615.3) scale(0.69 1)">2</text>
<text transform="translate(504.25 615.3) scale(0.69 1)">7</text>
<text transform="translate(510.34 615.3) scale(0.69 1)">6</text>
<text transform="translate(516.43 615.3) scale(0.69 1)">8</text>
</g>
<g font-size="12.69" fill="#161616" stroke="#161616" stroke-width="0.5">
<text transform="translate(589.2 599) scale(0.64 1)">T</text>
<text transform="translate(595.37 599) scale(0.59 1)">Y</text>
<text transform="translate(601.54 599) scale(0.59 1)">P</text>
<text transform="translate(607.72 599) scale(0.59 1)">E</text>
<text transform="translate(621 599) scale(0.86 1)">:</text>
</g>
<g font-size="10.19" fill="#111" font-weight="bold" stroke="#111" stroke-width="0.12">
<text transform="translate(637 599.6) scale(0.61 1)">P</text>
<text transform="translate(642.17 599.6) scale(0.56 1)">R</text>
<text transform="translate(648.19 599.6) scale(0.86 1)">I</text>
<text transform="translate(652.52 599.6) scale(0.61 1)">S</text>
<text transform="translate(657.69 599.6) scale(0.49 1)">M</text>
<text transform="translate(662.86 599.6) scale(0.56 1)">A</text>
</g>
<g font-size="12.9" fill="#161616" stroke="#161616" stroke-width="0.5">
<text transform="translate(589.2 622.2) scale(0.58 1)">E</text>
<text transform="translate(595.37 622.2) scale(0.53 1)">N</text>
<text transform="translate(601.54 622.2) scale(0.58 1)">S</text>
<text transform="translate(607.71 622.2) scale(0.58 1)">E</text>
<text transform="translate(613.88 622.2) scale(0.46 1)">M</text>
<text transform="translate(620.05 622.2) scale(0.58 1)">B</text>
<text transform="translate(626.22 622.2) scale(0.69 1)">L</text>
<text transform="translate(632.39 622.2) scale(0.58 1)">E</text>
<text transform="translate(644.73 622.2) scale(0.53 1)">N</text>
<text transform="translate(657.98 622.2) scale(0.86 1)">:</text>
</g>
<g font-size="8.32" fill="#111" font-weight="bold" stroke="#111" stroke-width="0.12">
<text transform="translate(672.5 622.8) scale(0.67 1)">3</text>
<text transform="translate(676.38 622.8) scale(0.67 1)">7</text>
<text transform="translate(680.81 622.8) scale(0.86 1)">/</text>
<text transform="translate(684.14 622.8) scale(0.67 1)">1</text>
<text transform="translate(688.02 622.8) scale(0.67 1)">1</text>
<text transform="translate(691.9 622.8) scale(0.67 1)">3</text>
</g>
<path d="M543 602.5 L558.25 600.75 L558.25 612 L543 610.25 Z" stroke="#101010" stroke-width="1" fill="none" />
<circle cx="569.5" cy="606.25" r="5.9" stroke="#101010" stroke-width="1" fill="none"/>
<circle cx="569.5" cy="606.25" r="2.9" stroke="#101010" stroke-width="1" fill="none"/>
<line x1="569.5" y1="589" x2="569.5" y2="625" stroke="#333" stroke-width="0.9"/>
<g font-size="10.92" fill="#1a1a1a" stroke="#1a1a1a" stroke-width="0.4">
<text transform="translate(785.5 489.1) scale(0.56 1)">A</text>
<text transform="translate(790.58 489.1) scale(0.52 1)">C</text>
<text transform="translate(795.65 489.1) scale(0.52 1)">C</text>
<text transform="translate(800.73 489.1) scale(0.52 1)">R</text>
<text transform="translate(805.8 489.1) scale(0.48 1)">O</text>
<text transform="translate(810.88 489.1) scale(0.52 1)">C</text>
<text transform="translate(815.96 489.1) scale(0.52 1)">H</text>
<text transform="translate(821.03 489.1) scale(0.56 1)">E</text>
<text transform="translate(831.18 489.1) scale(0.52 1)">C</text>
<text transform="translate(836.26 489.1) scale(0.67 1)">L</text>
<text transform="translate(841.34 489.1) scale(0.56 1)">E</text>
<text transform="translate(846.41 489.1) scale(0.52 1)">N</text>
<text transform="translate(851.49 489.1) scale(0.52 1)">C</text>
<text transform="translate(856.56 489.1) scale(0.52 1)">H</text>
<text transform="translate(861.64 489.1) scale(0.56 1)">E</text>
</g>
<g font-size="8.01" fill="#3a3a3a" stroke="#3a3a3a" stroke-width="0.12">
<text transform="translate(729.5 526.3) scale(0.69 1)">0</text>
<text transform="translate(733.32 526.3) scale(0.69 1)">5</text>
<text transform="translate(737.71 526.3) scale(0.86 1)">/</text>
<text transform="translate(740.96 526.3) scale(0.69 1)">0</text>
<text transform="translate(744.78 526.3) scale(0.69 1)">6</text>
<text transform="translate(749.17 526.3) scale(0.86 1)">/</text>
<text transform="translate(752.42 526.3) scale(0.69 1)">9</text>
<text transform="translate(756.24 526.3) scale(0.69 1)">7</text>
</g>
<g font-size="8.01" fill="#3a3a3a" stroke="#3a3a3a" stroke-width="0.12">
<text transform="translate(762.5 526.3) scale(0.47 1)">M</text>
<text transform="translate(766.43 526.3) scale(0.5 1)">O</text>
<text transform="translate(770.35 526.3) scale(0.54 1)">D</text>
<text transform="translate(774.88 526.3) scale(0.86 1)">I</text>
<text transform="translate(778.2 526.3) scale(0.64 1)">F</text>
<text transform="translate(782.73 526.3) scale(0.86 1)">I</text>
<text transform="translate(786.05 526.3) scale(0.59 1)">E</text>
<text transform="translate(793.9 526.3) scale(0.54 1)">R</text>
<text transform="translate(797.83 526.3) scale(0.5 1)">O</text>
<text transform="translate(801.75 526.3) scale(0.54 1)">N</text>
<text transform="translate(805.68 526.3) scale(0.54 1)">D</text>
<text transform="translate(809.61 526.3) scale(0.59 1)">E</text>
<text transform="translate(813.53 526.3) scale(0.71 1)">L</text>
<text transform="translate(817.46 526.3) scale(0.71 1)">L</text>
<text transform="translate(821.38 526.3) scale(0.59 1)">E</text>
<text transform="translate(829.23 526.3) scale(0.71 1)">0</text>
<text transform="translate(833.16 526.3) scale(0.71 1)">3</text>
<text transform="translate(837.08 526.3) scale(0.5 1)">G</text>
<text transform="translate(841.01 526.3) scale(0.71 1)">9</text>
<text transform="translate(844.93 526.3) scale(0.71 1)">0</text>
<text transform="translate(848.86 526.3) scale(0.71 1)">6</text>
</g>
<g font-size="8.01" fill="#3a3a3a" stroke="#3a3a3a" stroke-width="0.12">
<text transform="translate(856 526.3) scale(0.84 1)">0</text>
<text transform="translate(860.69 526.3) scale(0.84 1)">3</text>
<text transform="translate(865.38 526.3) scale(0.6 1)">G</text>
<text transform="translate(870.07 526.3) scale(0.84 1)">9</text>
<text transform="translate(874.76 526.3) scale(0.84 1)">0</text>
<text transform="translate(879.45 526.3) scale(0.84 1)">7</text>
</g>
<rect x="852.2" y="521" width="3" height="5" stroke="#444" stroke-width="0.6" fill="none"/>
<line x1="852.2" y1="523.5" x2="858.5" y2="523.5" stroke="#333" stroke-width="1.2"/>
<g font-size="6.66" fill="#3a3a3a" stroke="#3a3a3a" stroke-width="0.12">
<text transform="translate(892 525.8) scale(0.51 1)">M</text>
<text transform="translate(895.56 525.8) scale(0.7 1)">F</text>
</g>
<g font-size="8.01" fill="#3a3a3a" stroke="#3a3a3a" stroke-width="0.12">
<text transform="translate(729.5 542.6) scale(0.69 1)">2</text>
<text transform="translate(733.32 542.6) scale(0.69 1)">2</text>
<text transform="translate(737.71 542.6) scale(0.86 1)">/</text>
<text transform="translate(740.96 542.6) scale(0.69 1)">1</text>
<text transform="translate(744.78 542.6) scale(0.69 1)">1</text>
<text transform="translate(749.17 542.6) scale(0.86 1)">/</text>
<text transform="translate(752.42 542.6) scale(0.69 1)">9</text>
<text transform="translate(756.24 542.6) scale(0.69 1)">6</text>
</g>
<g font-size="6.86" fill="#3a3a3a" stroke="#3a3a3a" stroke-width="0.12">
<text transform="translate(763.8 536.5) scale(0.5 1)">m</text>
<text transform="translate(767.35 536.5) scale(0.74 1)">a</text>
<text transform="translate(771.5 536.5) scale(0.86 1)">t</text>
<text transform="translate(775.23 536.5) scale(0.86 1)">i</text>
<text transform="translate(778.01 536.5) scale(0.75 1)">e</text>
<text transform="translate(782 536.5) scale(0.86 1)">r</text>
<text transform="translate(785.12 536.5) scale(0.75 1)">e</text>
<text transform="translate(789.27 536.5) scale(0.86 1)">:</text>
<text transform="translate(792.23 536.5) scale(0.83 1)">z</text>
<text transform="translate(796.55 536.5) scale(0.86 1)">i</text>
<text transform="translate(799.33 536.5) scale(0.75 1)">n</text>
<text transform="translate(802.89 536.5) scale(0.83 1)">c</text>
<text transform="translate(806.44 536.5) scale(0.75 1)">o</text>
<text transform="translate(810.42 536.5) scale(0.86 1)">r</text>
<text transform="translate(813.98 536.5) scale(0.86 1)">-</text>
<text transform="translate(821.42 536.5) scale(0.86 1)">l</text>
<text transform="translate(824.2 536.5) scale(0.74 1)">a</text>
<text transform="translate(828.35 536.5) scale(0.86 1)">f</text>
</g>
<g font-size="7.07" fill="#3a3a3a" stroke="#3a3a3a" stroke-width="0.12">
<text transform="translate(763.8 545.8) scale(0.72 1)">0</text>
<text transform="translate(767.36 545.8) scale(0.72 1)">3</text>
<text transform="translate(770.91 545.8) scale(0.56 1)">C</text>
<text transform="translate(774.47 545.8) scale(0.72 1)">1</text>
<text transform="translate(778.03 545.8) scale(0.72 1)">0</text>
<text transform="translate(781.58 545.8) scale(0.72 1)">4</text>
<text transform="translate(785.14 545.8) scale(0.6 1)">A</text>
<text transform="translate(788.7 545.8) scale(0.72 1)">2</text>
<text transform="translate(792.66 545.8) scale(0.86 1)">-</text>
<text transform="translate(799.37 545.8) scale(0.72 1)">0</text>
<text transform="translate(802.93 545.8) scale(0.72 1)">7</text>
<text transform="translate(806.48 545.8) scale(0.52 1)">Q</text>
<text transform="translate(810.04 545.8) scale(0.6 1)">A</text>
<text transform="translate(813.6 545.8) scale(0.72 1)">1</text>
<text transform="translate(817.15 545.8) scale(0.72 1)">9</text>
</g>
<ellipse cx="847" cy="542.6" rx="2.8" ry="3.3" stroke="#3a3a3a" stroke-width="0.8" fill="none"/>
<line x1="845.18" y1="547.38" x2="849.48" y2="537.82" stroke="#3a3a3a" stroke-width="0.8"/>
<g font-size="7.49" fill="#3a3a3a" stroke="#3a3a3a" stroke-width="0.12">
<text transform="translate(852.5 546) scale(0.73 1)">7</text>
<text transform="translate(856.94 546) scale(0.86 1)">.</text>
<text transform="translate(860.13 546) scale(0.73 1)">1</text>
<text transform="translate(864.4 546) scale(0.86 1)">-</text>
</g>
<ellipse cx="871.5" cy="542.6" rx="2.8" ry="3.3" stroke="#3a3a3a" stroke-width="0.8" fill="none"/>
<line x1="869.68" y1="547.38" x2="873.98" y2="537.82" stroke="#3a3a3a" stroke-width="0.8"/>
<g font-size="7.49" fill="#3a3a3a" stroke="#3a3a3a" stroke-width="0.12">
<text transform="translate(877.11 546) scale(0.86 1)">7</text>
</g>
<g font-size="7.9" fill="#3a3a3a" stroke="#3a3a3a" stroke-width="0.12">
<text transform="translate(892 543.2) scale(0.69 1)">b</text>
<text transform="translate(895.78 543.2) scale(0.69 1)">g</text>
</g>
<g font-size="7.28" fill="#111" font-weight="bold" font-style="italic" stroke="#111" stroke-width="0.12">
<text transform="translate(729.5 555.8) scale(0.52 1)">R</text>
<text transform="translate(732.92 555.8) scale(0.54 1)">E</text>
<text transform="translate(736.34 555.8) scale(0.51 1)">V</text>
<text transform="translate(740.26 555.8) scale(0.86 1)">.</text>
</g>
<g font-size="7.28" fill="#111" font-weight="bold" font-style="italic" stroke="#111" stroke-width="0.12">
<text transform="translate(745 565) scale(0.55 1)">D</text>
<text transform="translate(748.73 565) scale(0.54 1)">A</text>
<text transform="translate(752.26 565) scale(0.58 1)">T</text>
<text transform="translate(755.89 565) scale(0.57 1)">E</text>
</g>
<g font-size="12.69" fill="#161616" stroke="#161616" stroke-width="0.5">
<text transform="translate(783 562) scale(0.47 1)">M</text>
<text transform="translate(789.25 562) scale(0.51 1)">O</text>
<text transform="translate(795.5 562) scale(0.55 1)">D</text>
<text transform="translate(802.72 562) scale(0.86 1)">I</text>
<text transform="translate(808 562) scale(0.65 1)">F</text>
<text transform="translate(815.22 562) scale(0.86 1)">I</text>
<text transform="translate(820.5 562) scale(0.55 1)">C</text>
<text transform="translate(826.75 562) scale(0.59 1)">A</text>
<text transform="translate(833 562) scale(0.65 1)">T</text>
<text transform="translate(840.22 562) scale(0.86 1)">I</text>
<text transform="translate(845.5 562) scale(0.51 1)">O</text>
<text transform="translate(851.75 562) scale(0.55 1)">N</text>
<text transform="translate(858 562) scale(0.59 1)">S</text>
</g>
<g font-size="9.98" fill="#111" font-weight="bold" stroke="#111" stroke-width="0.12">
<text transform="translate(732 580.3) scale(0.54 1)">D</text>
<text transform="translate(736.87 580.3) scale(0.69 1)">a</text>
<text transform="translate(742.25 580.3) scale(0.86 1)">t</text>
<text transform="translate(746.61 580.3) scale(0.7 1)">e</text>
</g>
<g font-size="8.74" fill="#111" font-weight="bold" stroke="#111" stroke-width="0.12">
<text transform="translate(753.5 580.3) scale(0.62 1)">1</text>
<text transform="translate(757.28 580.3) scale(0.62 1)">3</text>
<text transform="translate(761.53 580.3) scale(0.86 1)">/</text>
<text transform="translate(764.85 580.3) scale(0.62 1)">0</text>
<text transform="translate(768.63 580.3) scale(0.62 1)">4</text>
<text transform="translate(772.87 580.3) scale(0.86 1)">/</text>
<text transform="translate(776.19 580.3) scale(0.62 1)">9</text>
<text transform="translate(779.97 580.3) scale(0.62 1)">5</text>
</g>
<g font-size="9.98" fill="#111" font-weight="bold" stroke="#111" stroke-width="0.12">
<text transform="translate(792 580.3) scale(0.5 1)">D</text>
<text transform="translate(796.49 580.3) scale(0.65 1)">e</text>
<text transform="translate(800.97 580.3) scale(0.65 1)">s</text>
<text transform="translate(805.46 580.3) scale(0.65 1)">s</text>
<text transform="translate(810.53 580.3) scale(0.86 1)">i</text>
<text transform="translate(814.43 580.3) scale(0.59 1)">n</text>
<text transform="translate(818.91 580.3) scale(0.65 1)">e</text>
</g>
<g font-size="7.7" fill="#111" font-weight="bold" stroke="#111" stroke-width="0.12">
<text transform="translate(830 580.3) scale(0.48 1)">M</text>
<text transform="translate(833.89 580.3) scale(0.66 1)">F</text>
</g>
<g font-size="9.98" fill="#111" font-weight="bold" stroke="#111" stroke-width="0.12">
<text transform="translate(848.8 580.3) scale(0.55 1)">V</text>
<text transform="translate(853.33 580.3) scale(0.65 1)">e</text>
<text transform="translate(858 580.3) scale(0.86 1)">r</text>
<text transform="translate(863 580.3) scale(0.86 1)">i</text>
<text transform="translate(867.29 580.3) scale(0.86 1)">f</text>
<text transform="translate(872.06 580.3) scale(0.86 1)">i</text>
<text transform="translate(875.98 580.3) scale(0.65 1)">e</text>
</g>
<path d="M730.1 591.6 H761.5 V622.6 H730.1 Z M732.3 593.8 V620 H758.3 V593.8 Z" stroke="#000" stroke-width="0" fill="#000" fill-rule="evenodd"/>
<path d="M734.6 596.3 h2.5 v4.7 h6.9 v10.3 h-9.4 Z M737.4 604.1 v4.4 h3.8 v-4.4 Z" stroke="#000" stroke-width="0" fill="#000" fill-rule="evenodd"/>
<path d="M746.5 601 h9.25 v15.6 h-9.25 v-2.2 h6.4 v-3.1 h-6.4 Z M749.3 604.1 v4.4 h3.6 v-4.4 Z" stroke="#000" stroke-width="0" fill="#000" fill-rule="evenodd"/>
<g font-size="12.69" fill="#161616" stroke="#161616" stroke-width="0.5">
<text transform="translate(763 612) scale(0.59 1)">P</text>
<text transform="translate(769.2 612) scale(0.7 1)">L</text>
<text transform="translate(775.41 612) scale(0.58 1)">A</text>
<text transform="translate(781.61 612) scale(0.54 1)">N</text>
<text transform="translate(794.02 612) scale(0.54 1)">N</text>
<text transform="translate(800.22 612) scale(0.7 1)">u</text>
<text transform="translate(806.43 612) scale(0.47 1)">m</text>
<text transform="translate(813.59 612) scale(0.86 1)">.</text>
<text transform="translate(819.79 612) scale(0.86 1)">:</text>
</g>
<g font-size="19.97" fill="#333" stroke="#333" stroke-width="0.12">
<text transform="translate(827 613.3) scale(0.72 1)">3</text>
<text transform="translate(837 613.3) scale(0.72 1)">7</text>
<text transform="translate(847 613.3) scale(0.72 1)">7</text>
<text transform="translate(857 613.3) scale(0.72 1)">4</text>
<text transform="translate(867 613.3) scale(0.6 1)">P</text>
<text transform="translate(877 613.3) scale(0.72 1)">0</text>
<text transform="translate(887 613.3) scale(0.72 1)">2</text>
<text transform="translate(897 613.3) scale(0.72 1)">1</text>
</g>
</svg>
</body></html>
